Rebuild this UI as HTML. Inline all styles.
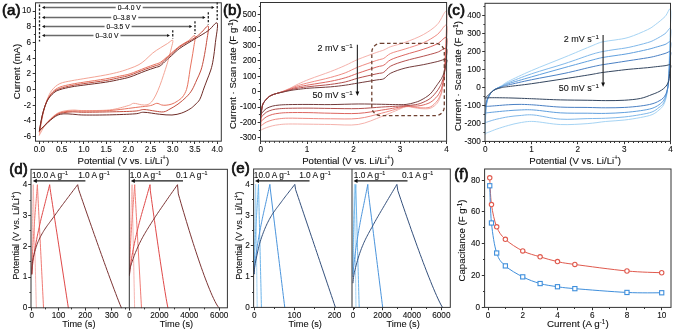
<!DOCTYPE html>
<html><head><meta charset="utf-8"><style>
html,body{margin:0;padding:0;background:#fff;}
svg{display:block;filter:blur(0.3px);font-family:"Liberation Sans", sans-serif;}
</style></head><body>
<svg width="675" height="332" viewBox="0 0 675 332">
<rect width="675" height="332" fill="#fff"/>
<path d="M39.40,135.03 C39.70,133.20 40.51,127.83 41.18,124.04 C41.84,120.25 42.44,116.26 43.40,112.27 C44.36,108.27 45.55,103.76 46.96,100.10 C48.36,96.43 49.70,93.03 51.85,90.28 C53.99,87.54 56.51,85.21 59.85,83.61 C63.18,82.02 67.85,81.53 71.85,80.71 C75.85,79.88 78.22,79.62 83.85,78.67 C89.48,77.71 99.70,76.12 105.63,74.98 C111.56,73.84 115.34,72.94 119.41,71.84 C123.48,70.74 126.82,69.59 130.08,68.38 C133.34,67.18 136.45,66.00 138.97,64.62 C141.49,63.23 142.89,62.00 145.19,60.06 C147.49,58.13 150.23,55.03 152.75,53.00 C155.27,50.97 157.86,49.47 160.30,47.90 C162.75,46.33 165.34,44.85 167.42,43.58 C169.49,42.31 172.08,39.56 172.75,40.28 C173.42,41.00 172.01,45.19 171.42,47.90 C170.82,50.60 169.93,53.78 169.19,56.53 C168.45,59.28 167.93,61.24 166.97,64.38 C166.01,67.52 164.60,71.84 163.42,75.37 C162.23,78.90 161.12,82.30 159.86,85.58 C158.60,88.85 157.27,92.25 155.86,95.00 C154.45,97.74 152.90,100.42 151.41,102.06 C149.93,103.70 148.60,104.35 146.97,104.81 C145.34,105.27 143.86,105.06 141.63,104.81 C139.41,104.56 135.86,103.19 133.63,103.32 C131.41,103.45 132.30,104.49 128.30,105.59 C124.30,106.69 117.04,109.09 109.63,109.91 C102.22,110.73 90.00,110.51 83.85,110.54 C77.70,110.56 76.07,109.98 72.74,110.07 C69.40,110.16 66.44,110.52 63.85,111.09 C61.25,111.65 59.40,112.13 57.18,113.44 C54.96,114.75 52.59,116.91 50.51,118.94 C48.44,120.97 46.59,122.93 44.73,125.61 C42.88,128.29 40.29,133.46 39.40,135.03" fill="none" stroke="#f4a596" stroke-width="1.00" stroke-linejoin="round" stroke-linecap="round" />
<path d="M39.40,131.89 C39.70,130.19 40.51,125.09 41.18,121.69 C41.84,118.28 42.44,114.95 43.40,111.48 C44.36,108.01 45.40,104.15 46.96,100.88 C48.51,97.61 50.59,94.14 52.73,91.86 C54.88,89.57 56.66,88.43 59.85,87.14 C63.03,85.86 67.85,84.99 71.85,84.16 C75.85,83.34 78.22,83.08 83.85,82.20 C89.48,81.32 99.70,79.91 105.63,78.90 C111.56,77.90 115.34,77.01 119.41,76.16 C123.48,75.30 125.78,75.17 130.08,73.80 C134.37,72.43 141.04,69.48 145.19,67.91 C149.34,66.34 152.45,65.30 154.97,64.38 C157.49,63.46 158.45,63.53 160.30,62.42 C162.16,61.31 164.23,59.28 166.08,57.71 C167.93,56.14 169.12,54.96 171.42,53.00 C173.71,51.04 177.05,47.96 179.86,45.93 C182.68,43.90 185.79,42.52 188.31,40.83 C190.83,39.14 194.09,34.63 194.98,35.81 C195.86,36.98 194.16,44.05 193.64,47.90 C193.12,51.74 192.46,55.35 191.86,58.89 C191.27,62.42 190.64,65.62 190.09,69.09 C189.53,72.56 189.12,76.29 188.53,79.69 C187.94,83.09 187.53,86.62 186.53,89.50 C185.53,92.38 184.08,94.99 182.53,96.96 C180.97,98.92 178.97,100.10 177.20,101.28 C175.42,102.45 173.71,103.37 171.86,104.02 C170.01,104.68 167.79,105.04 166.08,105.20 C164.38,105.36 163.19,105.28 161.64,104.96 C160.08,104.65 158.60,103.21 156.75,103.32 C154.90,103.42 153.64,104.95 150.53,105.59 C147.41,106.23 144.89,106.34 138.08,107.16 C131.26,107.99 118.67,109.87 109.63,110.54 C100.59,111.21 90.00,111.09 83.85,111.17 C77.70,111.24 76.07,110.89 72.74,111.01 C69.40,111.13 66.44,111.38 63.85,111.87 C61.25,112.37 59.40,112.75 57.18,113.99 C54.96,115.23 52.59,117.46 50.51,119.33 C48.44,121.20 46.59,123.25 44.73,125.22 C42.88,127.18 40.29,130.12 39.40,131.10" fill="none" stroke="#e8735f" stroke-width="1.00" stroke-linejoin="round" stroke-linecap="round" />
<path d="M39.40,131.10 C39.70,129.40 40.51,124.24 41.18,120.90 C41.84,117.56 42.44,114.42 43.40,111.09 C44.36,107.75 45.40,103.96 46.96,100.88 C48.51,97.81 50.59,94.69 52.73,92.64 C54.88,90.59 56.66,89.74 59.85,88.56 C63.03,87.38 67.85,86.40 71.85,85.58 C75.85,84.75 78.22,84.45 83.85,83.61 C89.48,82.78 99.70,81.53 105.63,80.55 C111.56,79.57 115.34,78.61 119.41,77.72 C123.48,76.84 125.78,76.61 130.08,75.21 C134.37,73.81 141.04,70.87 145.19,69.33 C149.34,67.78 152.45,66.84 154.97,65.95 C157.49,65.06 158.45,65.19 160.30,63.99 C162.16,62.78 164.23,60.36 166.08,58.73 C167.93,57.09 169.12,56.18 171.42,54.18 C173.71,52.17 175.94,49.47 179.86,46.72 C183.79,43.97 191.34,40.11 194.98,37.69 C198.61,35.27 199.42,34.11 201.64,32.20 C203.87,30.28 207.50,24.53 208.31,26.23 C209.12,27.93 207.27,37.09 206.53,42.40 C205.79,47.71 204.78,53.49 203.87,58.10 C202.95,62.71 202.21,66.38 201.02,70.03 C199.83,73.68 198.21,76.68 196.71,80.00 C195.20,83.32 193.70,87.16 192.00,89.97 C190.29,92.78 188.82,94.52 186.49,96.88 C184.15,99.23 180.74,102.09 178.00,104.10 C175.25,106.12 172.39,107.67 169.99,108.97 C167.59,110.26 166.10,111.52 163.59,111.87 C161.09,112.23 158.26,111.48 154.97,111.09 C151.68,110.70 147.19,109.52 143.86,109.52 C140.52,109.52 140.67,110.70 134.97,111.09 C129.26,111.48 118.15,111.68 109.63,111.87 C101.11,112.07 90.00,112.27 83.85,112.27 C77.70,112.27 76.07,111.81 72.74,111.87 C69.40,111.94 66.44,112.20 63.85,112.66 C61.25,113.12 59.40,113.44 57.18,114.62 C54.96,115.80 52.59,117.96 50.51,119.72 C48.44,121.49 46.59,123.39 44.73,125.22 C42.88,127.05 40.29,129.80 39.40,130.71" fill="none" stroke="#c44d3e" stroke-width="1.00" stroke-linejoin="round" stroke-linecap="round" />
<path d="M39.40,130.71 C39.70,129.01 40.51,123.78 41.18,120.51 C41.84,117.24 42.33,114.49 43.40,111.09 C44.47,107.69 45.92,103.11 47.62,100.10 C49.33,97.09 51.59,94.77 53.62,93.03 C55.66,91.29 56.81,90.69 59.85,89.66 C62.88,88.62 67.85,87.59 71.85,86.83 C75.85,86.07 78.22,85.88 83.85,85.10 C89.48,84.33 99.70,83.13 105.63,82.20 C111.56,81.27 115.34,80.41 119.41,79.53 C123.48,78.65 125.78,78.35 130.08,76.94 C134.37,75.53 141.04,72.60 145.19,71.05 C149.34,69.51 152.45,68.55 154.97,67.68 C157.49,66.80 158.45,67.00 160.30,65.79 C162.16,64.59 164.23,62.13 166.08,60.45 C167.93,58.78 169.12,57.77 171.42,55.75 C173.71,53.72 175.94,51.10 179.86,48.29 C183.79,45.47 190.23,41.81 194.98,38.87 C199.72,35.92 204.61,33.25 208.31,30.62 C212.01,28.00 216.01,21.13 217.20,23.09 C218.39,25.05 216.09,36.30 215.42,42.40 C214.76,48.50 213.97,55.06 213.20,59.67 C212.43,64.28 211.83,66.64 210.80,70.03 C209.77,73.42 208.15,77.01 207.02,80.00 C205.89,83.00 205.20,84.79 204.00,88.01 C202.80,91.23 201.32,96.51 199.82,99.31 C198.32,102.11 196.60,103.21 194.98,104.81 C193.35,106.40 192.31,107.52 190.09,108.89 C187.86,110.26 184.66,112.03 181.64,113.05 C178.62,114.07 175.70,114.82 171.99,115.01 C168.29,115.21 164.10,114.69 159.42,114.23 C154.73,113.77 147.93,112.33 143.86,112.27 C139.78,112.20 140.67,113.40 134.97,113.84 C129.26,114.27 118.15,114.66 109.63,114.86 C101.11,115.05 90.00,115.12 83.85,115.01 C77.70,114.91 76.07,114.42 72.74,114.23 C69.40,114.03 66.44,113.64 63.85,113.84 C61.25,114.03 59.40,114.36 57.18,115.41 C54.96,116.45 52.59,118.41 50.51,120.11 C48.44,121.82 46.59,123.84 44.73,125.61 C42.88,127.38 40.29,129.86 39.40,130.71" fill="none" stroke="#6e2b26" stroke-width="1.00" stroke-linejoin="round" stroke-linecap="round" />
<line x1="39.50" y1="4.60" x2="39.50" y2="41.50" stroke="#222" stroke-width="1.30" stroke-dasharray="2.3,1.6"/>
<line x1="217.20" y1="2.20" x2="217.20" y2="21.29" stroke="#222" stroke-width="1.30" stroke-dasharray="2.3,1.6"/>
<line x1="43.60" y1="7.50" x2="212.40" y2="7.50" stroke="#6a6a6a" stroke-width="1.40" />
<path d="M42.00,7.50 l2.8,-1.5 l0,3.0 z" fill="#111"/>
<path d="M214.40,7.50 l-2.8,-1.5 l0,3.0 z" fill="#111"/>
<rect x="115.70" y="3.50" width="27" height="8" fill="#fff"/>
<text x="129.20" y="10.10" font-size="7.30" text-anchor="middle" fill="#111111" stroke="#111111" stroke-width="0.15"  transform="matrix(0.9200 0 0 1 10.336 0)">0–4.0 V</text>
<line x1="208.31" y1="12.20" x2="208.31" y2="24.43" stroke="#222" stroke-width="1.30" stroke-dasharray="2.3,1.6"/>
<line x1="43.60" y1="17.50" x2="203.51" y2="17.50" stroke="#6a6a6a" stroke-width="1.40" />
<path d="M42.00,17.50 l2.8,-1.5 l0,3.0 z" fill="#111"/>
<path d="M205.51,17.50 l-2.8,-1.5 l0,3.0 z" fill="#111"/>
<rect x="111.25" y="13.50" width="27" height="8" fill="#fff"/>
<text x="124.75" y="20.10" font-size="7.30" text-anchor="middle" fill="#111111" stroke="#111111" stroke-width="0.15"  transform="matrix(0.9200 0 0 1 9.980 0)">0–3.8 V</text>
<line x1="194.98" y1="21.20" x2="194.98" y2="34.01" stroke="#222" stroke-width="1.30" stroke-dasharray="2.3,1.6"/>
<line x1="43.60" y1="26.50" x2="190.18" y2="26.50" stroke="#6a6a6a" stroke-width="1.40" />
<path d="M42.00,26.50 l2.8,-1.5 l0,3.0 z" fill="#111"/>
<path d="M192.18,26.50 l-2.8,-1.5 l0,3.0 z" fill="#111"/>
<rect x="104.59" y="22.50" width="27" height="8" fill="#fff"/>
<text x="118.09" y="29.10" font-size="7.30" text-anchor="middle" fill="#111111" stroke="#111111" stroke-width="0.15"  transform="matrix(0.9200 0 0 1 9.447 0)">0–3.5 V</text>
<line x1="172.75" y1="30.20" x2="172.75" y2="38.48" stroke="#222" stroke-width="1.30" stroke-dasharray="2.3,1.6"/>
<line x1="43.60" y1="35.50" x2="167.95" y2="35.50" stroke="#6a6a6a" stroke-width="1.40" />
<path d="M42.00,35.50 l2.8,-1.5 l0,3.0 z" fill="#111"/>
<path d="M169.95,35.50 l-2.8,-1.5 l0,3.0 z" fill="#111"/>
<rect x="93.48" y="31.50" width="27" height="8" fill="#fff"/>
<text x="106.98" y="38.10" font-size="7.30" text-anchor="middle" fill="#111111" stroke="#111111" stroke-width="0.15"  transform="matrix(0.9200 0 0 1 8.558 0)">0–3.0 V</text>
<rect x="35.50" y="2.80" width="185.80" height="138.40" fill="none" stroke="#333333" stroke-width="1.00"/>
<line x1="39.50" y1="141.20" x2="39.50" y2="144.00" stroke="#333333" stroke-width="1.00" />
<line x1="61.50" y1="141.20" x2="61.50" y2="144.00" stroke="#333333" stroke-width="1.00" />
<line x1="83.50" y1="141.20" x2="83.50" y2="144.00" stroke="#333333" stroke-width="1.00" />
<line x1="106.50" y1="141.20" x2="106.50" y2="144.00" stroke="#333333" stroke-width="1.00" />
<line x1="128.50" y1="141.20" x2="128.50" y2="144.00" stroke="#333333" stroke-width="1.00" />
<line x1="150.50" y1="141.20" x2="150.50" y2="144.00" stroke="#333333" stroke-width="1.00" />
<line x1="172.50" y1="141.20" x2="172.50" y2="144.00" stroke="#333333" stroke-width="1.00" />
<line x1="194.50" y1="141.20" x2="194.50" y2="144.00" stroke="#333333" stroke-width="1.00" />
<line x1="217.50" y1="141.20" x2="217.50" y2="144.00" stroke="#333333" stroke-width="1.00" />
<line x1="43.50" y1="141.20" x2="43.50" y2="142.80" stroke="#333333" stroke-width="1.00" />
<line x1="48.50" y1="141.20" x2="48.50" y2="142.80" stroke="#333333" stroke-width="1.00" />
<line x1="52.50" y1="141.20" x2="52.50" y2="142.80" stroke="#333333" stroke-width="1.00" />
<line x1="57.50" y1="141.20" x2="57.50" y2="142.80" stroke="#333333" stroke-width="1.00" />
<line x1="66.50" y1="141.20" x2="66.50" y2="142.80" stroke="#333333" stroke-width="1.00" />
<line x1="70.50" y1="141.20" x2="70.50" y2="142.80" stroke="#333333" stroke-width="1.00" />
<line x1="74.50" y1="141.20" x2="74.50" y2="142.80" stroke="#333333" stroke-width="1.00" />
<line x1="79.50" y1="141.20" x2="79.50" y2="142.80" stroke="#333333" stroke-width="1.00" />
<line x1="88.50" y1="141.20" x2="88.50" y2="142.80" stroke="#333333" stroke-width="1.00" />
<line x1="92.50" y1="141.20" x2="92.50" y2="142.80" stroke="#333333" stroke-width="1.00" />
<line x1="97.50" y1="141.20" x2="97.50" y2="142.80" stroke="#333333" stroke-width="1.00" />
<line x1="101.50" y1="141.20" x2="101.50" y2="142.80" stroke="#333333" stroke-width="1.00" />
<line x1="110.50" y1="141.20" x2="110.50" y2="142.80" stroke="#333333" stroke-width="1.00" />
<line x1="114.50" y1="141.20" x2="114.50" y2="142.80" stroke="#333333" stroke-width="1.00" />
<line x1="119.50" y1="141.20" x2="119.50" y2="142.80" stroke="#333333" stroke-width="1.00" />
<line x1="123.50" y1="141.20" x2="123.50" y2="142.80" stroke="#333333" stroke-width="1.00" />
<line x1="132.50" y1="141.20" x2="132.50" y2="142.80" stroke="#333333" stroke-width="1.00" />
<line x1="137.50" y1="141.20" x2="137.50" y2="142.80" stroke="#333333" stroke-width="1.00" />
<line x1="141.50" y1="141.20" x2="141.50" y2="142.80" stroke="#333333" stroke-width="1.00" />
<line x1="146.50" y1="141.20" x2="146.50" y2="142.80" stroke="#333333" stroke-width="1.00" />
<line x1="154.50" y1="141.20" x2="154.50" y2="142.80" stroke="#333333" stroke-width="1.00" />
<line x1="159.50" y1="141.20" x2="159.50" y2="142.80" stroke="#333333" stroke-width="1.00" />
<line x1="163.50" y1="141.20" x2="163.50" y2="142.80" stroke="#333333" stroke-width="1.00" />
<line x1="168.50" y1="141.20" x2="168.50" y2="142.80" stroke="#333333" stroke-width="1.00" />
<line x1="177.50" y1="141.20" x2="177.50" y2="142.80" stroke="#333333" stroke-width="1.00" />
<line x1="181.50" y1="141.20" x2="181.50" y2="142.80" stroke="#333333" stroke-width="1.00" />
<line x1="186.50" y1="141.20" x2="186.50" y2="142.80" stroke="#333333" stroke-width="1.00" />
<line x1="190.50" y1="141.20" x2="190.50" y2="142.80" stroke="#333333" stroke-width="1.00" />
<line x1="199.50" y1="141.20" x2="199.50" y2="142.80" stroke="#333333" stroke-width="1.00" />
<line x1="203.50" y1="141.20" x2="203.50" y2="142.80" stroke="#333333" stroke-width="1.00" />
<line x1="208.50" y1="141.20" x2="208.50" y2="142.80" stroke="#333333" stroke-width="1.00" />
<line x1="212.50" y1="141.20" x2="212.50" y2="142.80" stroke="#333333" stroke-width="1.00" />
<text x="39.40" y="152.00" font-size="8.20" text-anchor="middle" fill="#111111" stroke="#111111" stroke-width="0.10" >0.0</text>
<text x="61.62" y="152.00" font-size="8.20" text-anchor="middle" fill="#111111" stroke="#111111" stroke-width="0.10" >0.5</text>
<text x="83.85" y="152.00" font-size="8.20" text-anchor="middle" fill="#111111" stroke="#111111" stroke-width="0.10" >1.0</text>
<text x="106.08" y="152.00" font-size="8.20" text-anchor="middle" fill="#111111" stroke="#111111" stroke-width="0.10" >1.5</text>
<text x="128.30" y="152.00" font-size="8.20" text-anchor="middle" fill="#111111" stroke="#111111" stroke-width="0.10" >2.0</text>
<text x="150.53" y="152.00" font-size="8.20" text-anchor="middle" fill="#111111" stroke="#111111" stroke-width="0.10" >2.5</text>
<text x="172.75" y="152.00" font-size="8.20" text-anchor="middle" fill="#111111" stroke="#111111" stroke-width="0.10" >3.0</text>
<text x="194.98" y="152.00" font-size="8.20" text-anchor="middle" fill="#111111" stroke="#111111" stroke-width="0.10" >3.5</text>
<text x="217.20" y="152.00" font-size="8.20" text-anchor="middle" fill="#111111" stroke="#111111" stroke-width="0.10" >4.0</text>
<line x1="35.50" y1="136.50" x2="32.70" y2="136.50" stroke="#333333" stroke-width="1.00" />
<line x1="35.50" y1="120.50" x2="32.70" y2="120.50" stroke="#333333" stroke-width="1.00" />
<line x1="35.50" y1="105.50" x2="32.70" y2="105.50" stroke="#333333" stroke-width="1.00" />
<line x1="35.50" y1="89.50" x2="32.70" y2="89.50" stroke="#333333" stroke-width="1.00" />
<line x1="35.50" y1="73.50" x2="32.70" y2="73.50" stroke="#333333" stroke-width="1.00" />
<line x1="35.50" y1="58.50" x2="32.70" y2="58.50" stroke="#333333" stroke-width="1.00" />
<line x1="35.50" y1="42.50" x2="32.70" y2="42.50" stroke="#333333" stroke-width="1.00" />
<line x1="35.50" y1="26.50" x2="32.70" y2="26.50" stroke="#333333" stroke-width="1.00" />
<line x1="35.50" y1="11.50" x2="32.70" y2="11.50" stroke="#333333" stroke-width="1.00" />
<line x1="35.50" y1="128.50" x2="33.90" y2="128.50" stroke="#333333" stroke-width="1.00" />
<line x1="35.50" y1="113.50" x2="33.90" y2="113.50" stroke="#333333" stroke-width="1.00" />
<line x1="35.50" y1="97.50" x2="33.90" y2="97.50" stroke="#333333" stroke-width="1.00" />
<line x1="35.50" y1="81.50" x2="33.90" y2="81.50" stroke="#333333" stroke-width="1.00" />
<line x1="35.50" y1="65.50" x2="33.90" y2="65.50" stroke="#333333" stroke-width="1.00" />
<line x1="35.50" y1="50.50" x2="33.90" y2="50.50" stroke="#333333" stroke-width="1.00" />
<line x1="35.50" y1="34.50" x2="33.90" y2="34.50" stroke="#333333" stroke-width="1.00" />
<line x1="35.50" y1="18.50" x2="33.90" y2="18.50" stroke="#333333" stroke-width="1.00" />
<text x="31.00" y="139.00" font-size="8.20" text-anchor="end" fill="#111111" stroke="#111111" stroke-width="0.10" >-6</text>
<text x="31.00" y="123.30" font-size="8.20" text-anchor="end" fill="#111111" stroke="#111111" stroke-width="0.10" >-4</text>
<text x="31.00" y="107.60" font-size="8.20" text-anchor="end" fill="#111111" stroke="#111111" stroke-width="0.10" >-2</text>
<text x="31.00" y="91.90" font-size="8.20" text-anchor="end" fill="#111111" stroke="#111111" stroke-width="0.10" >0</text>
<text x="31.00" y="76.20" font-size="8.20" text-anchor="end" fill="#111111" stroke="#111111" stroke-width="0.10" >2</text>
<text x="31.00" y="60.50" font-size="8.20" text-anchor="end" fill="#111111" stroke="#111111" stroke-width="0.10" >4</text>
<text x="31.00" y="44.80" font-size="8.20" text-anchor="end" fill="#111111" stroke="#111111" stroke-width="0.10" >6</text>
<text x="31.00" y="29.10" font-size="8.20" text-anchor="end" fill="#111111" stroke="#111111" stroke-width="0.10" >8</text>
<text x="31.00" y="13.40" font-size="8.20" text-anchor="end" fill="#111111" stroke="#111111" stroke-width="0.10" >10</text>
<text x="123.40" y="163.70" font-size="9.60" text-anchor="middle" fill="#111111" stroke="#111111" stroke-width="0.10" >Potential (V vs. Li/Li<tspan dy="-3.3" font-size="6.3">+</tspan><tspan dy="3.3">)</tspan></text>
<text x="20.00" y="71.50" font-size="9.60" text-anchor="middle" fill="#111111" stroke="#111111" stroke-width="0.10"  transform="rotate(-90 20.00 71.50)">Current (mA)</text>
<text x="2.00" y="15.00" font-size="15.20" text-anchor="start" fill="#111111" stroke="#111111" stroke-width="0.70" >(a)</text>
<path d="M260.70,130.18 C260.79,127.35 260.95,117.41 261.26,113.22 C261.57,109.04 261.88,107.19 262.56,105.06 C263.24,102.92 264.11,101.95 265.34,100.43 C266.58,98.92 268.13,97.12 269.99,95.96 C271.85,94.81 274.48,94.22 276.49,93.50 C278.51,92.78 279.82,92.52 282.07,91.65 C284.31,90.78 287.25,89.54 289.96,88.26 C292.67,86.98 295.00,85.49 298.32,83.95 C301.65,82.40 304.60,81.07 309.94,79.01 C315.28,76.96 324.49,73.88 330.38,71.62 C336.26,69.36 340.59,67.51 345.24,65.45 C349.88,63.40 352.98,61.47 358.25,59.29 C363.51,57.11 372.57,53.90 376.82,52.35 C381.08,50.81 381.47,50.99 383.79,50.04 C386.12,49.09 387.20,47.94 390.76,46.65 C394.32,45.37 399.74,44.34 405.16,42.34 C410.58,40.33 417.93,37.59 423.27,34.63 C428.62,31.68 433.34,28.47 437.21,24.62 C441.08,20.76 445.07,9.08 446.50,11.52 C447.93,13.96 446.19,28.98 445.80,39.26 C445.42,49.53 444.84,64.43 444.18,73.16 C443.52,81.89 442.47,87.77 441.86,91.65 C441.24,95.53 441.24,94.50 440.46,96.43 C439.69,98.35 438.91,101.23 437.21,103.21 C435.51,105.19 432.95,107.39 430.24,108.29 C427.53,109.19 423.66,108.70 420.95,108.60 C418.24,108.50 416.46,107.98 413.99,107.68 C411.51,107.37 409.19,106.21 406.09,106.75 C402.99,107.29 399.51,109.27 395.40,110.91 C391.30,112.56 387.66,114.35 381.47,116.61 C375.28,118.87 366.76,123.16 358.25,124.47 C349.73,125.78 338.74,124.52 330.38,124.47 C322.01,124.42 315.05,124.24 308.08,124.17 C301.11,124.09 293.37,123.93 288.57,124.01 C283.77,124.09 281.99,124.32 279.28,124.63 C276.57,124.94 274.48,125.35 272.31,125.86 C270.14,126.37 267.90,127.14 266.27,127.71 C264.65,128.27 263.49,128.84 262.56,129.25 C261.63,129.66 261.01,130.02 260.70,130.18" fill="none" stroke="#f5b2ac" stroke-width="1.00" stroke-linejoin="round" stroke-linecap="round" />
<path d="M260.70,125.86 C260.79,123.75 260.95,116.69 261.26,113.22 C261.57,109.76 261.88,107.19 262.56,105.06 C263.24,102.92 264.11,101.95 265.34,100.43 C266.58,98.92 268.13,97.12 269.99,95.96 C271.85,94.81 274.48,94.19 276.49,93.50 C278.51,92.81 279.82,92.60 282.07,91.80 C284.31,91.01 287.25,89.78 289.96,88.72 C292.67,87.67 295.00,86.54 298.32,85.49 C301.65,84.43 304.60,83.74 309.94,82.40 C315.28,81.07 324.49,79.07 330.38,77.47 C336.26,75.88 340.59,74.60 345.24,72.85 C349.88,71.10 352.98,69.07 358.25,66.99 C363.51,64.91 372.57,61.81 376.82,60.37 C381.08,58.93 381.47,59.52 383.79,58.36 C386.12,57.21 387.20,55.00 390.76,53.43 C394.32,51.87 399.74,50.74 405.16,48.96 C410.58,47.19 417.93,45.19 423.27,42.80 C428.62,40.41 433.34,37.54 437.21,34.63 C441.08,31.73 445.07,23.33 446.50,25.39 C447.93,27.44 446.19,38.49 445.80,46.96 C445.42,55.44 444.84,69.05 444.18,76.24 C443.52,83.43 442.47,87.03 441.86,90.11 C441.24,93.19 441.24,92.93 440.46,94.73 C439.69,96.53 438.91,98.84 437.21,100.90 C435.51,102.95 432.95,105.90 430.24,107.06 C427.53,108.22 423.66,107.83 420.95,107.83 C418.24,107.83 416.46,107.29 413.99,107.06 C411.51,106.83 409.19,106.06 406.09,106.44 C402.99,106.83 399.51,108.24 395.40,109.37 C391.30,110.50 387.66,111.71 381.47,113.22 C375.28,114.74 366.76,117.54 358.25,118.46 C349.73,119.39 338.74,118.77 330.38,118.77 C322.01,118.77 315.05,118.57 308.08,118.46 C301.11,118.36 293.37,118.10 288.57,118.16 C283.77,118.21 281.99,118.46 279.28,118.77 C276.57,119.08 274.48,119.44 272.31,120.00 C270.14,120.57 267.90,121.39 266.27,122.16 C264.65,122.93 263.49,124.01 262.56,124.63 C261.63,125.24 261.01,125.65 260.70,125.86" fill="none" stroke="#ef8c84" stroke-width="1.00" stroke-linejoin="round" stroke-linecap="round" />
<path d="M260.70,121.70 C260.79,120.29 260.95,116.00 261.26,113.22 C261.57,110.45 261.88,107.19 262.56,105.06 C263.24,102.92 264.11,101.95 265.34,100.43 C266.58,98.92 268.13,97.12 269.99,95.96 C271.85,94.81 274.48,94.17 276.49,93.50 C278.51,92.83 279.82,92.65 282.07,91.96 C284.31,91.26 287.25,90.19 289.96,89.34 C292.67,88.49 295.00,87.64 298.32,86.87 C301.65,86.10 304.60,85.64 309.94,84.72 C315.28,83.79 324.49,82.48 330.38,81.33 C336.26,80.17 340.59,79.14 345.24,77.78 C349.88,76.42 352.98,74.96 358.25,73.16 C363.51,71.36 372.57,68.33 376.82,66.99 C381.08,65.66 381.47,66.35 383.79,65.14 C386.12,63.94 387.20,61.50 390.76,59.75 C394.32,58.00 399.74,56.41 405.16,54.67 C410.58,52.92 417.93,51.07 423.27,49.27 C428.62,47.47 433.34,45.81 437.21,43.88 C441.08,41.95 445.07,35.92 446.50,37.72 C447.93,39.51 446.19,48.25 445.80,54.67 C445.42,61.09 444.84,70.85 444.18,76.24 C443.52,81.63 442.47,84.59 441.86,87.03 C441.24,89.47 441.24,89.34 440.46,90.88 C439.69,92.42 438.91,94.35 437.21,96.27 C435.51,98.20 432.95,100.90 430.24,102.44 C427.53,103.98 423.66,104.90 420.95,105.52 C418.24,106.14 416.46,106.03 413.99,106.14 C411.51,106.24 409.19,105.85 406.09,106.14 C402.99,106.42 399.51,107.16 395.40,107.83 C391.30,108.50 387.66,109.22 381.47,110.14 C375.28,111.07 366.76,112.86 358.25,113.38 C349.73,113.89 338.74,113.35 330.38,113.22 C322.01,113.10 315.05,112.71 308.08,112.61 C301.11,112.50 293.37,112.50 288.57,112.61 C283.77,112.71 281.99,112.92 279.28,113.22 C276.57,113.53 274.48,113.84 272.31,114.46 C270.14,115.07 267.90,116.00 266.27,116.92 C264.65,117.85 263.49,119.21 262.56,120.00 C261.63,120.80 261.01,121.42 260.70,121.70" fill="none" stroke="#dc6660" stroke-width="1.00" stroke-linejoin="round" stroke-linecap="round" />
<path d="M260.70,117.85 C260.79,117.08 260.95,115.36 261.26,113.22 C261.57,111.09 261.88,107.19 262.56,105.06 C263.24,102.92 264.11,101.95 265.34,100.43 C266.58,98.92 268.13,97.12 269.99,95.96 C271.85,94.81 274.48,94.14 276.49,93.50 C278.51,92.86 279.82,92.70 282.07,92.11 C284.31,91.52 287.25,90.62 289.96,89.95 C292.67,89.29 295.00,88.67 298.32,88.11 C301.65,87.54 304.60,87.18 309.94,86.56 C315.28,85.95 324.49,85.18 330.38,84.41 C336.26,83.64 340.59,82.99 345.24,81.94 C349.88,80.89 352.98,79.45 358.25,78.09 C363.51,76.73 372.57,74.75 376.82,73.77 C381.08,72.80 381.47,73.52 383.79,72.23 C386.12,70.95 387.20,67.97 390.76,66.07 C394.32,64.17 399.74,62.47 405.16,60.83 C410.58,59.19 417.93,57.62 423.27,56.21 C428.62,54.79 433.34,53.64 437.21,52.35 C441.08,51.07 445.07,47.09 446.50,48.50 C447.93,49.91 446.19,56.46 445.80,60.83 C445.42,65.20 444.84,71.10 444.18,74.70 C443.52,78.29 442.47,80.61 441.86,82.40 C441.24,84.20 441.24,84.07 440.46,85.49 C439.69,86.90 438.91,88.72 437.21,90.88 C435.51,93.04 432.95,96.38 430.24,98.43 C427.53,100.49 423.66,102.13 420.95,103.21 C418.24,104.29 416.46,104.49 413.99,104.90 C411.51,105.31 409.19,105.44 406.09,105.67 C402.99,105.90 399.51,106.06 395.40,106.29 C391.30,106.52 387.66,106.67 381.47,107.06 C375.28,107.45 366.76,108.37 358.25,108.60 C349.73,108.83 338.74,108.52 330.38,108.45 C322.01,108.37 315.05,108.16 308.08,108.14 C301.11,108.11 293.37,108.19 288.57,108.29 C283.77,108.40 281.99,108.50 279.28,108.76 C276.57,109.01 274.48,109.24 272.31,109.83 C270.14,110.42 267.90,111.32 266.27,112.30 C264.65,113.28 263.49,114.77 262.56,115.69 C261.63,116.61 261.01,117.49 260.70,117.85" fill="none" stroke="#b4504e" stroke-width="1.00" stroke-linejoin="round" stroke-linecap="round" />
<path d="M260.70,114.77 C260.79,114.38 260.95,114.07 261.26,112.45 C261.57,110.84 261.88,107.06 262.56,105.06 C263.24,103.05 264.11,101.95 265.34,100.43 C266.58,98.92 268.13,97.12 269.99,95.96 C271.85,94.81 274.48,94.12 276.49,93.50 C278.51,92.88 279.82,92.75 282.07,92.27 C284.31,91.78 287.25,91.06 289.96,90.57 C292.67,90.08 295.00,89.75 298.32,89.34 C301.65,88.93 304.60,88.52 309.94,88.11 C315.28,87.69 324.49,87.36 330.38,86.87 C336.26,86.38 340.59,85.82 345.24,85.18 C349.88,84.54 352.98,83.89 358.25,83.02 C363.51,82.15 372.57,80.66 376.82,79.94 C381.08,79.22 381.47,79.84 383.79,78.71 C386.12,77.58 387.20,74.93 390.76,73.16 C394.32,71.39 399.74,69.49 405.16,68.07 C410.58,66.66 417.93,65.76 423.27,64.68 C428.62,63.60 433.34,62.50 437.21,61.60 C441.08,60.70 445.07,58.65 446.50,59.29 C447.93,59.93 446.19,63.27 445.80,65.45 C445.42,67.64 444.84,70.33 444.18,72.39 C443.52,74.44 442.47,76.50 441.86,77.78 C441.24,79.07 441.24,78.94 440.46,80.09 C439.69,81.25 438.91,82.40 437.21,84.72 C435.51,87.03 432.95,91.39 430.24,93.96 C427.53,96.53 423.66,98.66 420.95,100.13 C418.24,101.59 416.46,102.03 413.99,102.75 C411.51,103.46 409.19,104.13 406.09,104.44 C402.99,104.75 399.51,104.62 395.40,104.59 C391.30,104.57 387.66,104.39 381.47,104.29 C375.28,104.18 366.76,103.93 358.25,103.98 C349.73,104.03 338.74,104.52 330.38,104.59 C322.01,104.67 315.05,104.44 308.08,104.44 C301.11,104.44 293.37,104.49 288.57,104.59 C283.77,104.70 281.99,104.80 279.28,105.06 C276.57,105.31 274.48,105.54 272.31,106.14 C270.14,106.73 267.90,107.57 266.27,108.60 C264.65,109.63 263.49,111.27 262.56,112.30 C261.63,113.33 261.01,114.35 260.70,114.77" fill="none" stroke="#743c3c" stroke-width="1.00" stroke-linejoin="round" stroke-linecap="round" />
<rect x="371.8" y="43.3" width="72.5" height="72.4" rx="9" ry="9" fill="none" stroke="#6e4030" stroke-width="1.3" stroke-dasharray="3.6,2.6"/>
<line x1="357.40" y1="44.80" x2="357.40" y2="92.00" stroke="#333" stroke-width="1.20" />
<path d="M357.4,96 l-1.9,-4.6 l3.8,0 z" fill="#111"/>
<text x="352.70" y="51.10" font-size="9.00" text-anchor="end" fill="#111111" stroke="#111111" stroke-width="0.10" >2 mV s<tspan dy="-3.2" font-size="6.2">−1</tspan><tspan dy="3.2"></tspan></text>
<text x="352.70" y="98.30" font-size="9.00" text-anchor="end" fill="#111111" stroke="#111111" stroke-width="0.10" >50 mV s<tspan dy="-3.2" font-size="6.2">−1</tspan><tspan dy="3.2"></tspan></text>
<rect x="260.50" y="2.50" width="186.10" height="138.70" fill="none" stroke="#333333" stroke-width="1.00"/>
<line x1="260.50" y1="141.20" x2="260.50" y2="144.00" stroke="#333333" stroke-width="1.00" />
<line x1="307.50" y1="141.20" x2="307.50" y2="144.00" stroke="#333333" stroke-width="1.00" />
<line x1="353.50" y1="141.20" x2="353.50" y2="144.00" stroke="#333333" stroke-width="1.00" />
<line x1="400.50" y1="141.20" x2="400.50" y2="144.00" stroke="#333333" stroke-width="1.00" />
<line x1="446.50" y1="141.20" x2="446.50" y2="144.00" stroke="#333333" stroke-width="1.00" />
<line x1="265.50" y1="141.20" x2="265.50" y2="142.80" stroke="#333333" stroke-width="1.00" />
<line x1="269.50" y1="141.20" x2="269.50" y2="142.80" stroke="#333333" stroke-width="1.00" />
<line x1="274.50" y1="141.20" x2="274.50" y2="142.80" stroke="#333333" stroke-width="1.00" />
<line x1="279.50" y1="141.20" x2="279.50" y2="142.80" stroke="#333333" stroke-width="1.00" />
<line x1="283.50" y1="141.20" x2="283.50" y2="142.80" stroke="#333333" stroke-width="1.00" />
<line x1="288.50" y1="141.20" x2="288.50" y2="142.80" stroke="#333333" stroke-width="1.00" />
<line x1="293.50" y1="141.20" x2="293.50" y2="142.80" stroke="#333333" stroke-width="1.00" />
<line x1="297.50" y1="141.20" x2="297.50" y2="142.80" stroke="#333333" stroke-width="1.00" />
<line x1="302.50" y1="141.20" x2="302.50" y2="142.80" stroke="#333333" stroke-width="1.00" />
<line x1="311.50" y1="141.20" x2="311.50" y2="142.80" stroke="#333333" stroke-width="1.00" />
<line x1="316.50" y1="141.20" x2="316.50" y2="142.80" stroke="#333333" stroke-width="1.00" />
<line x1="321.50" y1="141.20" x2="321.50" y2="142.80" stroke="#333333" stroke-width="1.00" />
<line x1="325.50" y1="141.20" x2="325.50" y2="142.80" stroke="#333333" stroke-width="1.00" />
<line x1="330.50" y1="141.20" x2="330.50" y2="142.80" stroke="#333333" stroke-width="1.00" />
<line x1="335.50" y1="141.20" x2="335.50" y2="142.80" stroke="#333333" stroke-width="1.00" />
<line x1="339.50" y1="141.20" x2="339.50" y2="142.80" stroke="#333333" stroke-width="1.00" />
<line x1="344.50" y1="141.20" x2="344.50" y2="142.80" stroke="#333333" stroke-width="1.00" />
<line x1="348.50" y1="141.20" x2="348.50" y2="142.80" stroke="#333333" stroke-width="1.00" />
<line x1="358.50" y1="141.20" x2="358.50" y2="142.80" stroke="#333333" stroke-width="1.00" />
<line x1="362.50" y1="141.20" x2="362.50" y2="142.80" stroke="#333333" stroke-width="1.00" />
<line x1="367.50" y1="141.20" x2="367.50" y2="142.80" stroke="#333333" stroke-width="1.00" />
<line x1="372.50" y1="141.20" x2="372.50" y2="142.80" stroke="#333333" stroke-width="1.00" />
<line x1="376.50" y1="141.20" x2="376.50" y2="142.80" stroke="#333333" stroke-width="1.00" />
<line x1="381.50" y1="141.20" x2="381.50" y2="142.80" stroke="#333333" stroke-width="1.00" />
<line x1="386.50" y1="141.20" x2="386.50" y2="142.80" stroke="#333333" stroke-width="1.00" />
<line x1="390.50" y1="141.20" x2="390.50" y2="142.80" stroke="#333333" stroke-width="1.00" />
<line x1="395.50" y1="141.20" x2="395.50" y2="142.80" stroke="#333333" stroke-width="1.00" />
<line x1="404.50" y1="141.20" x2="404.50" y2="142.80" stroke="#333333" stroke-width="1.00" />
<line x1="409.50" y1="141.20" x2="409.50" y2="142.80" stroke="#333333" stroke-width="1.00" />
<line x1="413.50" y1="141.20" x2="413.50" y2="142.80" stroke="#333333" stroke-width="1.00" />
<line x1="418.50" y1="141.20" x2="418.50" y2="142.80" stroke="#333333" stroke-width="1.00" />
<line x1="423.50" y1="141.20" x2="423.50" y2="142.80" stroke="#333333" stroke-width="1.00" />
<line x1="427.50" y1="141.20" x2="427.50" y2="142.80" stroke="#333333" stroke-width="1.00" />
<line x1="432.50" y1="141.20" x2="432.50" y2="142.80" stroke="#333333" stroke-width="1.00" />
<line x1="437.50" y1="141.20" x2="437.50" y2="142.80" stroke="#333333" stroke-width="1.00" />
<line x1="441.50" y1="141.20" x2="441.50" y2="142.80" stroke="#333333" stroke-width="1.00" />
<text x="260.70" y="152.00" font-size="8.20" text-anchor="middle" fill="#111111" stroke="#111111" stroke-width="0.10" >0</text>
<text x="307.15" y="152.00" font-size="8.20" text-anchor="middle" fill="#111111" stroke="#111111" stroke-width="0.10" >1</text>
<text x="353.60" y="152.00" font-size="8.20" text-anchor="middle" fill="#111111" stroke="#111111" stroke-width="0.10" >2</text>
<text x="400.05" y="152.00" font-size="8.20" text-anchor="middle" fill="#111111" stroke="#111111" stroke-width="0.10" >3</text>
<text x="446.50" y="152.00" font-size="8.20" text-anchor="middle" fill="#111111" stroke="#111111" stroke-width="0.10" >4</text>
<line x1="260.50" y1="137.50" x2="257.70" y2="137.50" stroke="#333333" stroke-width="1.00" />
<line x1="260.50" y1="122.50" x2="257.70" y2="122.50" stroke="#333333" stroke-width="1.00" />
<line x1="260.50" y1="107.50" x2="257.70" y2="107.50" stroke="#333333" stroke-width="1.00" />
<line x1="260.50" y1="91.50" x2="257.70" y2="91.50" stroke="#333333" stroke-width="1.00" />
<line x1="260.50" y1="76.50" x2="257.70" y2="76.50" stroke="#333333" stroke-width="1.00" />
<line x1="260.50" y1="60.50" x2="257.70" y2="60.50" stroke="#333333" stroke-width="1.00" />
<line x1="260.50" y1="45.50" x2="257.70" y2="45.50" stroke="#333333" stroke-width="1.00" />
<line x1="260.50" y1="30.50" x2="257.70" y2="30.50" stroke="#333333" stroke-width="1.00" />
<line x1="260.50" y1="14.50" x2="257.70" y2="14.50" stroke="#333333" stroke-width="1.00" />
<line x1="260.50" y1="130.50" x2="258.90" y2="130.50" stroke="#333333" stroke-width="1.00" />
<line x1="260.50" y1="114.50" x2="258.90" y2="114.50" stroke="#333333" stroke-width="1.00" />
<line x1="260.50" y1="99.50" x2="258.90" y2="99.50" stroke="#333333" stroke-width="1.00" />
<line x1="260.50" y1="83.50" x2="258.90" y2="83.50" stroke="#333333" stroke-width="1.00" />
<line x1="260.50" y1="68.50" x2="258.90" y2="68.50" stroke="#333333" stroke-width="1.00" />
<line x1="260.50" y1="53.50" x2="258.90" y2="53.50" stroke="#333333" stroke-width="1.00" />
<line x1="260.50" y1="37.50" x2="258.90" y2="37.50" stroke="#333333" stroke-width="1.00" />
<line x1="260.50" y1="22.50" x2="258.90" y2="22.50" stroke="#333333" stroke-width="1.00" />
<line x1="260.50" y1="6.50" x2="258.90" y2="6.50" stroke="#333333" stroke-width="1.00" />
<text x="256.40" y="140.28" font-size="8.20" text-anchor="end" fill="#111111" stroke="#111111" stroke-width="0.10" >-300</text>
<text x="256.40" y="124.87" font-size="8.20" text-anchor="end" fill="#111111" stroke="#111111" stroke-width="0.10" >-200</text>
<text x="256.40" y="109.46" font-size="8.20" text-anchor="end" fill="#111111" stroke="#111111" stroke-width="0.10" >-100</text>
<text x="256.40" y="94.05" font-size="8.20" text-anchor="end" fill="#111111" stroke="#111111" stroke-width="0.10" >0</text>
<text x="256.40" y="78.64" font-size="8.20" text-anchor="end" fill="#111111" stroke="#111111" stroke-width="0.10" >100</text>
<text x="256.40" y="63.23" font-size="8.20" text-anchor="end" fill="#111111" stroke="#111111" stroke-width="0.10" >200</text>
<text x="256.40" y="47.82" font-size="8.20" text-anchor="end" fill="#111111" stroke="#111111" stroke-width="0.10" >300</text>
<text x="256.40" y="32.41" font-size="8.20" text-anchor="end" fill="#111111" stroke="#111111" stroke-width="0.10" >400</text>
<text x="256.40" y="17.00" font-size="8.20" text-anchor="end" fill="#111111" stroke="#111111" stroke-width="0.10" >500</text>
<text x="348.00" y="163.70" font-size="9.60" text-anchor="middle" fill="#111111" stroke="#111111" stroke-width="0.10" >Potential (V vs. Li/Li<tspan dy="-3.3" font-size="6.3">+</tspan><tspan dy="3.3">)</tspan></text>
<text x="236.20" y="74.00" font-size="9.60" text-anchor="middle" fill="#111111" stroke="#111111" stroke-width="0.10"  transform="rotate(-90 236.20 74.00)">Current · Scan rate (F g<tspan dy="-3.3" font-size="6.3">-1</tspan><tspan dy="3.3">)</tspan></text>
<text x="223.00" y="15.00" font-size="15.20" text-anchor="start" fill="#111111" stroke="#111111" stroke-width="0.70" >(b)</text>
<path d="M485.20,134.07 C485.29,130.84 485.45,119.98 485.76,114.64 C486.07,109.31 486.37,105.41 487.05,102.05 C487.73,98.69 488.99,96.24 489.83,94.50 C490.68,92.76 491.23,92.52 492.15,91.62 C493.08,90.72 493.85,90.06 495.40,89.10 C496.94,88.14 499.26,87.15 501.42,85.86 C503.59,84.57 503.35,83.91 508.38,81.36 C513.40,78.81 522.13,74.62 531.55,70.57 C540.97,66.52 555.19,61.06 564.92,57.08 C574.66,53.09 583.77,49.16 589.95,46.64 C596.13,44.12 597.83,43.07 602.00,41.97 C606.17,40.86 610.50,40.77 614.98,39.99 C619.46,39.21 623.48,39.00 628.88,37.29 C634.29,35.58 643.02,31.83 647.42,29.73 C651.83,27.63 652.37,26.88 655.30,24.69 C658.24,22.51 662.49,19.12 665.04,16.60 C667.59,14.08 669.79,6.14 670.60,9.58 C671.41,13.03 670.21,26.67 669.90,37.29 C669.60,47.90 669.25,63.82 668.75,73.27 C668.24,82.71 667.74,88.71 666.89,93.96 C666.04,99.20 664.96,102.08 663.65,104.75 C662.33,107.42 660.94,108.32 659.01,109.97 C657.08,111.62 655.15,113.39 652.06,114.64 C648.97,115.90 645.11,116.62 640.47,117.52 C635.84,118.42 630.04,119.38 624.25,120.04 C618.46,120.70 611.89,120.88 605.71,121.48 C599.53,122.08 594.74,123.13 587.17,123.64 C579.60,124.15 569.17,124.90 560.29,124.54 C551.40,124.18 540.59,121.78 533.87,121.48 C527.15,121.18 524.21,122.08 519.96,122.74 C515.71,123.40 512.24,124.39 508.38,125.44 C504.51,126.49 499.88,127.99 496.79,129.04 C493.70,130.09 491.53,131.08 489.83,131.74 C488.14,132.40 487.36,132.61 486.59,132.99 C485.82,133.38 485.43,133.89 485.20,134.07" fill="none" stroke="#a6d4f4" stroke-width="1.00" stroke-linejoin="round" stroke-linecap="round" />
<path d="M485.20,122.74 C485.29,120.79 485.45,114.64 485.76,111.05 C486.07,107.45 486.37,103.91 487.05,101.15 C487.73,98.39 488.99,96.09 489.83,94.50 C490.68,92.91 491.23,92.52 492.15,91.62 C493.08,90.72 493.85,90.00 495.40,89.10 C496.94,88.20 499.26,87.30 501.42,86.22 C503.59,85.14 503.35,84.69 508.38,82.62 C513.40,80.55 522.13,76.99 531.55,73.81 C540.97,70.63 555.19,66.70 564.92,63.55 C574.66,60.41 583.77,56.90 589.95,54.92 C596.13,52.94 597.83,52.58 602.00,51.68 C606.17,50.78 610.50,50.24 614.98,49.52 C619.46,48.80 623.48,48.50 628.88,47.36 C634.29,46.22 643.02,44.00 647.42,42.68 C651.83,41.37 652.37,40.95 655.30,39.45 C658.24,37.95 662.49,35.46 665.04,33.69 C667.59,31.92 669.79,26.43 670.60,28.83 C671.41,31.23 670.21,40.08 669.90,48.08 C669.60,56.09 669.25,69.37 668.75,76.87 C668.24,84.36 667.74,88.71 666.89,93.06 C666.04,97.40 664.96,100.55 663.65,102.95 C662.33,105.35 660.94,105.95 659.01,107.45 C657.08,108.95 655.15,110.75 652.06,111.95 C648.97,113.15 645.11,113.81 640.47,114.64 C635.84,115.48 630.04,116.38 624.25,116.98 C618.46,117.58 611.89,117.97 605.71,118.24 C599.53,118.51 594.74,118.45 587.17,118.60 C579.60,118.75 569.17,119.74 560.29,119.14 C551.40,118.54 540.59,115.60 533.87,115.00 C527.15,114.41 524.21,115.24 519.96,115.54 C515.71,115.84 512.24,116.20 508.38,116.80 C504.51,117.40 499.88,118.42 496.79,119.14 C493.70,119.86 491.53,120.61 489.83,121.12 C488.14,121.63 487.36,121.93 486.59,122.20 C485.82,122.47 485.43,122.65 485.20,122.74" fill="none" stroke="#80b8ea" stroke-width="1.00" stroke-linejoin="round" stroke-linecap="round" />
<path d="M485.20,113.21 C485.29,112.40 485.45,110.45 485.76,108.35 C486.07,106.25 486.37,102.92 487.05,100.61 C487.73,98.30 488.99,96.00 489.83,94.50 C490.68,93.00 491.23,92.52 492.15,91.62 C493.08,90.72 493.85,89.94 495.40,89.10 C496.94,88.26 499.26,87.48 501.42,86.58 C503.59,85.68 503.35,85.32 508.38,83.70 C513.40,82.08 522.13,79.56 531.55,76.87 C540.97,74.17 555.19,70.21 564.92,67.51 C574.66,64.81 583.77,62.32 589.95,60.67 C596.13,59.03 597.83,58.46 602.00,57.62 C606.17,56.78 610.50,56.33 614.98,55.64 C619.46,54.95 623.48,54.50 628.88,53.48 C634.29,52.46 643.02,50.54 647.42,49.52 C651.83,48.50 652.37,48.20 655.30,47.36 C658.24,46.52 662.49,45.35 665.04,44.48 C667.59,43.61 669.79,40.35 670.60,42.15 C671.41,43.94 670.21,49.19 669.90,55.28 C669.60,61.36 669.25,72.52 668.75,78.66 C668.24,84.81 667.74,88.56 666.89,92.16 C666.04,95.76 664.96,98.15 663.65,100.25 C662.33,102.35 660.94,103.40 659.01,104.75 C657.08,106.10 655.15,107.36 652.06,108.35 C648.97,109.34 645.11,110.00 640.47,110.69 C635.84,111.38 630.04,112.04 624.25,112.49 C618.46,112.94 611.89,113.27 605.71,113.39 C599.53,113.51 594.74,113.30 587.17,113.21 C579.60,113.12 569.17,113.39 560.29,112.85 C551.40,112.31 540.59,110.45 533.87,109.97 C527.15,109.49 524.21,109.85 519.96,109.97 C515.71,110.09 512.24,110.39 508.38,110.69 C504.51,110.99 499.88,111.47 496.79,111.77 C493.70,112.07 491.53,112.31 489.83,112.49 C488.14,112.67 487.36,112.73 486.59,112.85 C485.82,112.97 485.43,113.15 485.20,113.21" fill="none" stroke="#609fde" stroke-width="1.00" stroke-linejoin="round" stroke-linecap="round" />
<path d="M485.20,106.55 C485.29,106.25 485.45,105.92 485.76,104.75 C486.07,103.58 486.37,101.24 487.05,99.53 C487.73,97.82 488.99,95.82 489.83,94.50 C490.68,93.18 491.23,92.52 492.15,91.62 C493.08,90.72 493.85,89.88 495.40,89.10 C496.94,88.32 499.26,87.63 501.42,86.94 C503.59,86.25 503.35,86.16 508.38,84.96 C513.40,83.76 522.13,81.69 531.55,79.74 C540.97,77.80 555.19,75.34 564.92,73.27 C574.66,71.20 583.77,68.74 589.95,67.33 C596.13,65.92 597.83,65.56 602.00,64.81 C606.17,64.06 610.50,63.52 614.98,62.83 C619.46,62.14 623.48,61.51 628.88,60.67 C634.29,59.84 643.02,58.55 647.42,57.80 C651.83,57.05 652.37,56.90 655.30,56.18 C658.24,55.46 662.49,54.20 665.04,53.48 C667.59,52.76 669.79,50.66 670.60,51.86 C671.41,53.06 670.21,55.91 669.90,60.67 C669.60,65.44 669.25,75.37 668.75,80.46 C668.24,85.56 667.74,88.41 666.89,91.26 C666.04,94.11 664.96,95.94 663.65,97.55 C662.33,99.17 660.94,99.92 659.01,100.97 C657.08,102.02 655.15,103.01 652.06,103.85 C648.97,104.69 645.11,105.41 640.47,106.01 C635.84,106.61 630.04,107.15 624.25,107.45 C618.46,107.75 611.89,107.81 605.71,107.81 C599.53,107.81 594.74,107.57 587.17,107.45 C579.60,107.33 569.17,107.51 560.29,107.09 C551.40,106.67 540.59,105.38 533.87,104.93 C527.15,104.48 524.21,104.42 519.96,104.39 C515.71,104.36 512.24,104.54 508.38,104.75 C504.51,104.96 499.88,105.41 496.79,105.65 C493.70,105.89 491.53,106.07 489.83,106.19 C488.14,106.31 487.36,106.31 486.59,106.37 C485.82,106.43 485.43,106.52 485.20,106.55" fill="none" stroke="#4a80c4" stroke-width="1.00" stroke-linejoin="round" stroke-linecap="round" />
<path d="M485.20,97.91 C485.29,97.85 485.45,97.82 485.76,97.55 C486.07,97.28 486.37,96.95 487.05,96.30 C487.73,95.64 488.99,94.38 489.83,93.60 C490.68,92.82 491.23,92.31 492.15,91.62 C493.08,90.93 493.85,90.12 495.40,89.46 C496.94,88.80 499.26,88.14 501.42,87.66 C503.59,87.18 503.35,87.24 508.38,86.58 C513.40,85.92 522.13,85.02 531.55,83.70 C540.97,82.38 555.19,80.16 564.92,78.66 C574.66,77.17 583.77,75.73 589.95,74.71 C596.13,73.69 597.83,73.18 602.00,72.55 C606.17,71.92 610.50,71.47 614.98,70.93 C619.46,70.39 623.48,69.85 628.88,69.31 C634.29,68.77 643.02,68.11 647.42,67.69 C651.83,67.27 652.37,67.12 655.30,66.79 C658.24,66.46 662.49,66.01 665.04,65.71 C667.59,65.41 669.79,64.03 670.60,64.99 C671.41,65.95 670.21,68.89 669.90,71.47 C669.60,74.05 669.25,78.22 668.75,80.46 C668.24,82.71 667.74,83.61 666.89,84.96 C666.04,86.31 664.96,87.45 663.65,88.56 C662.33,89.67 660.94,90.63 659.01,91.62 C657.08,92.61 655.15,93.36 652.06,94.50 C648.97,95.64 645.11,97.49 640.47,98.45 C635.84,99.41 630.04,99.89 624.25,100.25 C618.46,100.61 611.89,100.61 605.71,100.61 C599.53,100.61 594.74,100.37 587.17,100.25 C579.60,100.13 569.17,100.13 560.29,99.89 C551.40,99.65 540.59,99.08 533.87,98.81 C527.15,98.54 524.21,98.42 519.96,98.27 C515.71,98.12 512.24,98.00 508.38,97.91 C504.51,97.82 499.88,97.76 496.79,97.73 C493.70,97.70 491.53,97.70 489.83,97.73 C488.14,97.76 487.36,97.88 486.59,97.91 C485.82,97.94 485.43,97.91 485.20,97.91" fill="none" stroke="#34465f" stroke-width="1.00" stroke-linejoin="round" stroke-linecap="round" />
<line x1="603.10" y1="35.00" x2="603.10" y2="83.00" stroke="#333" stroke-width="1.20" />
<path d="M603.1,87 l-1.9,-4.6 l3.8,0 z" fill="#111"/>
<text x="598.90" y="41.80" font-size="9.00" text-anchor="end" fill="#111111" stroke="#111111" stroke-width="0.10" >2 mV s<tspan dy="-3.2" font-size="6.2">−1</tspan><tspan dy="3.2"></tspan></text>
<text x="598.90" y="91.00" font-size="9.00" text-anchor="end" fill="#111111" stroke="#111111" stroke-width="0.10" >50 mV s<tspan dy="-3.2" font-size="6.2">−1</tspan><tspan dy="3.2"></tspan></text>
<rect x="485.00" y="3.30" width="185.50" height="138.10" fill="none" stroke="#333333" stroke-width="1.00"/>
<line x1="485.50" y1="141.40" x2="485.50" y2="144.20" stroke="#333333" stroke-width="1.00" />
<line x1="531.50" y1="141.40" x2="531.50" y2="144.20" stroke="#333333" stroke-width="1.00" />
<line x1="577.50" y1="141.40" x2="577.50" y2="144.20" stroke="#333333" stroke-width="1.00" />
<line x1="624.50" y1="141.40" x2="624.50" y2="144.20" stroke="#333333" stroke-width="1.00" />
<line x1="670.50" y1="141.40" x2="670.50" y2="144.20" stroke="#333333" stroke-width="1.00" />
<line x1="489.50" y1="141.40" x2="489.50" y2="143.00" stroke="#333333" stroke-width="1.00" />
<line x1="494.50" y1="141.40" x2="494.50" y2="143.00" stroke="#333333" stroke-width="1.00" />
<line x1="499.50" y1="141.40" x2="499.50" y2="143.00" stroke="#333333" stroke-width="1.00" />
<line x1="503.50" y1="141.40" x2="503.50" y2="143.00" stroke="#333333" stroke-width="1.00" />
<line x1="508.50" y1="141.40" x2="508.50" y2="143.00" stroke="#333333" stroke-width="1.00" />
<line x1="513.50" y1="141.40" x2="513.50" y2="143.00" stroke="#333333" stroke-width="1.00" />
<line x1="517.50" y1="141.40" x2="517.50" y2="143.00" stroke="#333333" stroke-width="1.00" />
<line x1="522.50" y1="141.40" x2="522.50" y2="143.00" stroke="#333333" stroke-width="1.00" />
<line x1="526.50" y1="141.40" x2="526.50" y2="143.00" stroke="#333333" stroke-width="1.00" />
<line x1="536.50" y1="141.40" x2="536.50" y2="143.00" stroke="#333333" stroke-width="1.00" />
<line x1="540.50" y1="141.40" x2="540.50" y2="143.00" stroke="#333333" stroke-width="1.00" />
<line x1="545.50" y1="141.40" x2="545.50" y2="143.00" stroke="#333333" stroke-width="1.00" />
<line x1="550.50" y1="141.40" x2="550.50" y2="143.00" stroke="#333333" stroke-width="1.00" />
<line x1="554.50" y1="141.40" x2="554.50" y2="143.00" stroke="#333333" stroke-width="1.00" />
<line x1="559.50" y1="141.40" x2="559.50" y2="143.00" stroke="#333333" stroke-width="1.00" />
<line x1="563.50" y1="141.40" x2="563.50" y2="143.00" stroke="#333333" stroke-width="1.00" />
<line x1="568.50" y1="141.40" x2="568.50" y2="143.00" stroke="#333333" stroke-width="1.00" />
<line x1="573.50" y1="141.40" x2="573.50" y2="143.00" stroke="#333333" stroke-width="1.00" />
<line x1="582.50" y1="141.40" x2="582.50" y2="143.00" stroke="#333333" stroke-width="1.00" />
<line x1="587.50" y1="141.40" x2="587.50" y2="143.00" stroke="#333333" stroke-width="1.00" />
<line x1="591.50" y1="141.40" x2="591.50" y2="143.00" stroke="#333333" stroke-width="1.00" />
<line x1="596.50" y1="141.40" x2="596.50" y2="143.00" stroke="#333333" stroke-width="1.00" />
<line x1="601.50" y1="141.40" x2="601.50" y2="143.00" stroke="#333333" stroke-width="1.00" />
<line x1="605.50" y1="141.40" x2="605.50" y2="143.00" stroke="#333333" stroke-width="1.00" />
<line x1="610.50" y1="141.40" x2="610.50" y2="143.00" stroke="#333333" stroke-width="1.00" />
<line x1="614.50" y1="141.40" x2="614.50" y2="143.00" stroke="#333333" stroke-width="1.00" />
<line x1="619.50" y1="141.40" x2="619.50" y2="143.00" stroke="#333333" stroke-width="1.00" />
<line x1="628.50" y1="141.40" x2="628.50" y2="143.00" stroke="#333333" stroke-width="1.00" />
<line x1="633.50" y1="141.40" x2="633.50" y2="143.00" stroke="#333333" stroke-width="1.00" />
<line x1="638.50" y1="141.40" x2="638.50" y2="143.00" stroke="#333333" stroke-width="1.00" />
<line x1="642.50" y1="141.40" x2="642.50" y2="143.00" stroke="#333333" stroke-width="1.00" />
<line x1="647.50" y1="141.40" x2="647.50" y2="143.00" stroke="#333333" stroke-width="1.00" />
<line x1="652.50" y1="141.40" x2="652.50" y2="143.00" stroke="#333333" stroke-width="1.00" />
<line x1="656.50" y1="141.40" x2="656.50" y2="143.00" stroke="#333333" stroke-width="1.00" />
<line x1="661.50" y1="141.40" x2="661.50" y2="143.00" stroke="#333333" stroke-width="1.00" />
<line x1="665.50" y1="141.40" x2="665.50" y2="143.00" stroke="#333333" stroke-width="1.00" />
<text x="485.20" y="152.00" font-size="8.20" text-anchor="middle" fill="#111111" stroke="#111111" stroke-width="0.10" >0</text>
<text x="531.55" y="152.00" font-size="8.20" text-anchor="middle" fill="#111111" stroke="#111111" stroke-width="0.10" >1</text>
<text x="577.90" y="152.00" font-size="8.20" text-anchor="middle" fill="#111111" stroke="#111111" stroke-width="0.10" >2</text>
<text x="624.25" y="152.00" font-size="8.20" text-anchor="middle" fill="#111111" stroke="#111111" stroke-width="0.10" >3</text>
<text x="670.60" y="152.00" font-size="8.20" text-anchor="middle" fill="#111111" stroke="#111111" stroke-width="0.10" >4</text>
<line x1="485.00" y1="141.50" x2="482.20" y2="141.50" stroke="#333333" stroke-width="1.00" />
<line x1="485.00" y1="123.50" x2="482.20" y2="123.50" stroke="#333333" stroke-width="1.00" />
<line x1="485.00" y1="105.50" x2="482.20" y2="105.50" stroke="#333333" stroke-width="1.00" />
<line x1="485.00" y1="87.50" x2="482.20" y2="87.50" stroke="#333333" stroke-width="1.00" />
<line x1="485.00" y1="69.50" x2="482.20" y2="69.50" stroke="#333333" stroke-width="1.00" />
<line x1="485.00" y1="51.50" x2="482.20" y2="51.50" stroke="#333333" stroke-width="1.00" />
<line x1="485.00" y1="33.50" x2="482.20" y2="33.50" stroke="#333333" stroke-width="1.00" />
<line x1="485.00" y1="15.50" x2="482.20" y2="15.50" stroke="#333333" stroke-width="1.00" />
<line x1="485.00" y1="132.50" x2="483.40" y2="132.50" stroke="#333333" stroke-width="1.00" />
<line x1="485.00" y1="114.50" x2="483.40" y2="114.50" stroke="#333333" stroke-width="1.00" />
<line x1="485.00" y1="96.50" x2="483.40" y2="96.50" stroke="#333333" stroke-width="1.00" />
<line x1="485.00" y1="78.50" x2="483.40" y2="78.50" stroke="#333333" stroke-width="1.00" />
<line x1="485.00" y1="60.50" x2="483.40" y2="60.50" stroke="#333333" stroke-width="1.00" />
<line x1="485.00" y1="42.50" x2="483.40" y2="42.50" stroke="#333333" stroke-width="1.00" />
<line x1="485.00" y1="24.50" x2="483.40" y2="24.50" stroke="#333333" stroke-width="1.00" />
<line x1="485.00" y1="6.50" x2="483.40" y2="6.50" stroke="#333333" stroke-width="1.00" />
<text x="480.90" y="144.03" font-size="8.20" text-anchor="end" fill="#111111" stroke="#111111" stroke-width="0.10" >-300</text>
<text x="480.90" y="126.04" font-size="8.20" text-anchor="end" fill="#111111" stroke="#111111" stroke-width="0.10" >-200</text>
<text x="480.90" y="108.05" font-size="8.20" text-anchor="end" fill="#111111" stroke="#111111" stroke-width="0.10" >-100</text>
<text x="480.90" y="90.06" font-size="8.20" text-anchor="end" fill="#111111" stroke="#111111" stroke-width="0.10" >0</text>
<text x="480.90" y="72.07" font-size="8.20" text-anchor="end" fill="#111111" stroke="#111111" stroke-width="0.10" >100</text>
<text x="480.90" y="54.08" font-size="8.20" text-anchor="end" fill="#111111" stroke="#111111" stroke-width="0.10" >200</text>
<text x="480.90" y="36.09" font-size="8.20" text-anchor="end" fill="#111111" stroke="#111111" stroke-width="0.10" >300</text>
<text x="480.90" y="18.10" font-size="8.20" text-anchor="end" fill="#111111" stroke="#111111" stroke-width="0.10" >400</text>
<text x="575.20" y="163.70" font-size="9.60" text-anchor="middle" fill="#111111" stroke="#111111" stroke-width="0.10" >Potential (V vs. Li/Li<tspan dy="-3.3" font-size="6.3">+</tspan><tspan dy="3.3">)</tspan></text>
<text x="461.00" y="76.00" font-size="9.60" text-anchor="middle" fill="#111111" stroke="#111111" stroke-width="0.10"  transform="rotate(-90 461.00 76.00)">Current · Scan rate (F g<tspan dy="-3.3" font-size="6.3">-1</tspan><tspan dy="3.3">)</tspan></text>
<text x="447.30" y="15.00" font-size="15.20" text-anchor="start" fill="#111111" stroke="#111111" stroke-width="0.70" >(c)</text>
<path d="M31.80,273.94 L31.80,273.24 L31.81,271.92 L31.82,270.55 L31.83,269.27 L31.84,268.01 L31.85,266.78 L31.86,265.56 L31.87,264.31 L31.89,262.97 L31.90,261.60 L31.92,260.19 L31.93,258.77 L31.95,257.32 L31.97,255.87 L31.99,254.41 L32.01,252.94 L32.03,251.47 L32.05,250.00 L32.07,248.53 L32.09,247.04 L32.11,245.56 L32.13,244.06 L32.15,242.57 L32.18,241.08 L32.20,239.58 L32.23,238.09 L32.25,236.60 L32.28,235.11 L32.30,233.62 L32.33,232.13 L32.35,230.64 L32.38,229.15 L32.41,227.66 L32.44,226.16 L32.47,224.65 L32.49,223.14 L32.52,221.61 L32.55,220.07 L32.58,218.54 L32.61,217.02 L32.64,215.52 L32.67,214.03 L32.71,212.54 L32.74,211.05 L32.77,209.55 L32.80,208.04 L32.84,206.52 L32.87,204.97 L32.90,203.38 L32.94,201.77 L32.97,200.13 L33.01,198.47 L33.04,196.80 L33.08,195.12 L33.11,193.42 L33.15,191.70 L33.18,189.97 L33.22,188.22 L33.26,186.46 L33.29,184.68 L33.35,187.76 L33.45,191.76 L33.55,195.76 L33.65,199.76 L33.75,203.76 L33.85,207.77 L33.95,211.77 L34.05,215.77 L34.15,219.77 L34.25,223.77 L34.35,227.77 L34.45,231.77 L34.55,235.77 L34.65,239.78 L34.74,243.78 L34.84,247.78 L34.94,251.78 L35.04,255.78 L35.14,259.78 L35.24,263.78 L35.34,267.79 L35.44,271.79 L35.54,275.79 L35.64,279.79 L35.74,283.79 L35.84,287.79 L35.94,291.79 L36.04,295.80 L36.14,299.80 L36.23,303.80 L36.33,307.80" fill="none" stroke="#f6b4b0" stroke-width="1.00" stroke-linejoin="round" stroke-linecap="round" />
<path d="M31.80,273.94 L31.81,273.24 L31.83,271.92 L31.86,270.55 L31.90,269.27 L31.93,268.01 L31.98,266.78 L32.02,265.56 L32.07,264.31 L32.13,262.97 L32.18,261.60 L32.24,260.19 L32.30,258.77 L32.36,257.32 L32.43,255.87 L32.50,254.41 L32.57,252.94 L32.64,251.47 L32.72,250.00 L32.80,248.53 L32.88,247.04 L32.96,245.56 L33.04,244.06 L33.13,242.57 L33.22,241.08 L33.31,239.58 L33.40,238.09 L33.49,236.60 L33.59,235.11 L33.68,233.62 L33.78,232.13 L33.88,230.64 L33.98,229.15 L34.08,227.66 L34.19,226.16 L34.30,224.65 L34.40,223.14 L34.51,221.61 L34.62,220.07 L34.74,218.54 L34.85,217.02 L34.96,215.52 L35.08,214.03 L35.20,212.54 L35.32,211.05 L35.44,209.55 L35.56,208.04 L35.68,206.52 L35.81,204.97 L35.93,203.38 L36.06,201.77 L36.19,200.13 L36.32,198.47 L36.45,196.80 L36.58,195.12 L36.72,193.42 L36.85,191.70 L36.99,189.97 L37.12,188.22 L37.26,186.46 L37.40,184.68 L37.52,187.76 L37.72,191.76 L37.92,195.76 L38.12,199.76 L38.32,203.76 L38.53,207.77 L38.73,211.77 L38.93,215.77 L39.13,219.77 L39.33,223.77 L39.53,227.77 L39.73,231.77 L39.93,235.77 L40.13,239.78 L40.33,243.78 L40.53,247.78 L40.73,251.78 L40.93,255.78 L41.13,259.78 L41.33,263.78 L41.53,267.79 L41.73,271.79 L41.93,275.79 L42.13,279.79 L42.33,283.79 L42.53,287.79 L42.73,291.79 L42.93,295.80 L43.13,299.80 L43.33,303.80 L43.53,307.80" fill="none" stroke="#f07a74" stroke-width="1.00" stroke-linejoin="round" stroke-linecap="round" />
<path d="M31.80,273.94 L31.84,273.24 L31.91,271.92 L32.00,270.55 L32.11,269.27 L32.23,268.01 L32.37,266.78 L32.51,265.56 L32.67,264.31 L32.84,262.97 L33.02,261.60 L33.20,260.19 L33.40,258.77 L33.60,257.32 L33.81,255.87 L34.03,254.41 L34.26,252.94 L34.49,251.47 L34.74,250.00 L34.98,248.53 L35.24,247.04 L35.50,245.56 L35.77,244.06 L36.04,242.57 L36.32,241.08 L36.61,239.58 L36.90,238.09 L37.19,236.60 L37.50,235.11 L37.80,233.62 L38.12,232.13 L38.44,230.64 L38.76,229.15 L39.09,227.66 L39.42,226.16 L39.76,224.65 L40.10,223.14 L40.45,221.61 L40.81,220.07 L41.16,218.54 L41.53,217.02 L41.89,215.52 L42.27,214.03 L42.64,212.54 L43.02,211.05 L43.41,209.55 L43.80,208.04 L44.19,206.52 L44.59,204.97 L44.99,203.38 L45.39,201.77 L45.80,200.13 L46.22,198.47 L46.63,196.80 L47.06,195.12 L47.48,193.42 L47.91,191.70 L48.35,189.97 L48.78,188.22 L49.22,186.46 L49.67,184.68 L50.04,188.37 L50.65,192.35 L51.26,196.34 L51.87,200.32 L52.48,204.30 L53.09,208.28 L53.70,212.26 L54.31,216.24 L54.92,220.22 L55.53,224.20 L56.14,228.18 L56.75,232.16 L57.36,236.14 L57.97,240.13 L58.58,244.11 L59.19,248.09 L59.80,252.07 L60.41,256.05 L61.02,260.03 L61.63,264.01 L62.24,267.99 L62.85,271.97 L63.46,275.95 L64.07,279.93 L64.68,283.91 L65.29,287.90 L65.90,291.88 L66.51,295.86 L67.12,299.84 L67.73,303.82 L68.34,307.80" fill="none" stroke="#e04848" stroke-width="1.00" stroke-linejoin="round" stroke-linecap="round" />
<path d="M31.80,273.94 L31.90,271.63 L32.08,267.19 L32.31,263.61 L32.59,261.31 L32.90,259.29 L33.25,257.57 L33.63,256.07 L34.03,254.54 L34.46,252.84 L34.92,251.13 L35.40,249.44 L35.90,247.78 L36.43,246.16 L36.97,244.60 L37.53,243.10 L38.12,241.66 L38.72,240.30 L39.34,238.98 L39.97,237.67 L40.63,236.39 L41.30,235.12 L41.98,233.88 L42.69,232.66 L43.40,231.46 L44.14,230.28 L44.89,229.12 L45.65,227.98 L46.42,226.85 L47.21,225.73 L48.02,224.62 L48.84,223.51 L49.67,222.39 L50.51,221.27 L51.37,220.12 L52.24,218.95 L53.12,217.75 L54.01,216.51 L54.92,215.21 L55.84,213.90 L56.77,212.59 L57.71,211.28 L58.67,209.96 L59.63,208.65 L60.61,207.33 L61.59,206.01 L62.59,204.67 L63.60,203.33 L64.62,201.97 L65.65,200.59 L66.70,199.19 L67.75,197.79 L68.81,196.38 L69.88,194.95 L70.97,193.52 L72.06,192.08 L73.16,190.63 L74.28,189.16 L75.40,187.68 L76.53,186.19 L77.67,184.68 L78.55,189.30 L79.98,193.44 L81.40,197.58 L82.83,201.71 L84.26,205.83 L85.69,209.94 L87.12,214.05 L88.55,218.15 L89.98,222.24 L91.41,226.31 L92.84,230.38 L94.26,234.44 L95.69,238.49 L97.12,242.53 L98.55,246.55 L99.98,250.57 L101.41,254.57 L102.84,258.55 L104.27,262.52 L105.69,266.47 L107.12,270.41 L108.55,274.33 L109.98,278.22 L111.41,282.09 L112.84,285.93 L114.27,289.74 L115.70,293.51 L117.12,297.24 L118.55,300.90 L119.98,304.47 L121.41,307.80" fill="none" stroke="#7c3434" stroke-width="1.00" stroke-linejoin="round" stroke-linecap="round" />
<path d="M129.50,273.94 L129.51,272.92 L129.52,270.98 L129.53,269.16 L129.54,267.67 L129.56,266.28 L129.58,265.00 L129.60,263.79 L129.63,262.53 L129.65,261.15 L129.67,259.74 L129.70,258.30 L129.73,256.84 L129.76,255.37 L129.79,253.89 L129.82,252.42 L129.85,250.94 L129.89,249.46 L129.92,247.99 L129.96,246.52 L129.99,245.05 L130.03,243.58 L130.07,242.11 L130.11,240.65 L130.15,239.20 L130.19,237.76 L130.23,236.34 L130.28,234.92 L130.32,233.52 L130.36,232.12 L130.41,230.72 L130.45,229.33 L130.50,227.93 L130.55,226.52 L130.60,225.10 L130.65,223.66 L130.70,222.19 L130.75,220.71 L130.80,219.23 L130.85,217.75 L130.90,216.27 L130.95,214.79 L131.01,213.31 L131.06,211.83 L131.11,210.33 L131.17,208.83 L131.23,207.32 L131.28,205.79 L131.34,204.25 L131.40,202.69 L131.46,201.10 L131.52,199.51 L131.57,197.90 L131.63,196.29 L131.70,194.67 L131.76,193.04 L131.82,191.40 L131.88,189.75 L131.94,188.07 L132.01,186.39 L132.07,184.68 L132.12,187.76 L132.20,191.76 L132.29,195.76 L132.37,199.76 L132.45,203.76 L132.53,207.77 L132.62,211.77 L132.70,215.77 L132.78,219.77 L132.86,223.77 L132.95,227.77 L133.03,231.77 L133.11,235.77 L133.19,239.78 L133.28,243.78 L133.36,247.78 L133.44,251.78 L133.53,255.78 L133.61,259.78 L133.69,263.78 L133.77,267.79 L133.86,271.79 L133.94,275.79 L134.02,279.79 L134.10,283.79 L134.19,287.79 L134.27,291.79 L134.35,295.80 L134.43,299.80 L134.52,303.80 L134.60,307.80" fill="none" stroke="#f6b4b0" stroke-width="1.00" stroke-linejoin="round" stroke-linecap="round" />
<path d="M129.50,273.94 L129.51,272.92 L129.53,270.98 L129.56,269.16 L129.59,267.67 L129.63,266.28 L129.66,265.00 L129.71,263.79 L129.75,262.53 L129.80,261.15 L129.85,259.74 L129.91,258.30 L129.97,256.84 L130.02,255.37 L130.09,253.89 L130.15,252.42 L130.22,250.94 L130.28,249.46 L130.35,247.99 L130.43,246.52 L130.50,245.05 L130.58,243.58 L130.66,242.11 L130.73,240.65 L130.82,239.20 L130.90,237.76 L130.98,236.34 L131.07,234.92 L131.16,233.52 L131.25,232.12 L131.34,230.72 L131.43,229.33 L131.53,227.93 L131.62,226.52 L131.72,225.10 L131.82,223.66 L131.92,222.19 L132.02,220.71 L132.12,219.23 L132.23,217.75 L132.33,216.27 L132.44,214.79 L132.55,213.31 L132.66,211.83 L132.77,210.33 L132.88,208.83 L132.99,207.32 L133.11,205.79 L133.22,204.25 L133.34,202.69 L133.46,201.10 L133.58,199.51 L133.70,197.90 L133.82,196.29 L133.94,194.67 L134.07,193.04 L134.19,191.40 L134.32,189.75 L134.44,188.07 L134.57,186.39 L134.70,184.68 L134.84,188.37 L135.06,192.35 L135.28,196.34 L135.50,200.32 L135.73,204.30 L135.95,208.28 L136.17,212.26 L136.39,216.24 L136.61,220.22 L136.83,224.20 L137.06,228.18 L137.28,232.16 L137.50,236.14 L137.72,240.13 L137.94,244.11 L138.16,248.09 L138.39,252.07 L138.61,256.05 L138.83,260.03 L139.05,264.01 L139.27,267.99 L139.49,271.97 L139.72,275.95 L139.94,279.93 L140.16,283.91 L140.38,287.90 L140.60,291.88 L140.82,295.86 L141.05,299.84 L141.27,303.82 L141.49,307.80" fill="none" stroke="#f07a74" stroke-width="1.00" stroke-linejoin="round" stroke-linecap="round" />
<path d="M129.50,275.48 L129.54,274.77 L129.62,273.43 L129.73,272.03 L129.85,270.73 L129.99,269.44 L130.15,268.19 L130.32,266.96 L130.50,265.68 L130.69,264.32 L130.89,262.92 L131.11,261.49 L131.33,260.04 L131.57,258.58 L131.81,257.10 L132.06,255.61 L132.32,254.12 L132.59,252.63 L132.87,251.13 L133.15,249.63 L133.44,248.12 L133.74,246.60 L134.05,245.09 L134.36,243.57 L134.69,242.05 L135.01,240.53 L135.35,239.01 L135.69,237.49 L136.03,235.98 L136.39,234.46 L136.75,232.95 L137.11,231.43 L137.48,229.92 L137.86,228.40 L138.24,226.87 L138.63,225.34 L139.03,223.80 L139.43,222.25 L139.83,220.68 L140.24,219.12 L140.66,217.58 L141.08,216.05 L141.50,214.53 L141.94,213.02 L142.37,211.50 L142.81,209.98 L143.26,208.45 L143.71,206.89 L144.17,205.32 L144.63,203.71 L145.09,202.06 L145.56,200.40 L146.04,198.71 L146.52,197.01 L147.00,195.30 L147.49,193.57 L147.98,191.82 L148.48,190.06 L148.98,188.28 L149.49,186.49 L150.00,184.68 L150.35,190.84 L150.94,195.12 L151.53,199.38 L152.11,203.64 L152.70,207.87 L153.28,212.09 L153.87,216.29 L154.45,220.48 L155.04,224.65 L155.62,228.79 L156.21,232.92 L156.80,237.03 L157.38,241.12 L157.97,245.18 L158.55,249.22 L159.14,253.23 L159.72,257.22 L160.31,261.18 L160.89,265.11 L161.48,269.01 L162.07,272.87 L162.65,276.69 L163.24,280.47 L163.82,284.20 L164.41,287.88 L164.99,291.50 L165.58,295.05 L166.16,298.51 L166.75,301.85 L167.34,305.03 L167.92,307.80" fill="none" stroke="#e04848" stroke-width="1.00" stroke-linejoin="round" stroke-linecap="round" />
<path d="M129.50,273.94 L129.60,272.92 L129.79,270.98 L130.04,269.16 L130.33,267.67 L130.65,266.28 L131.02,265.00 L131.41,263.79 L131.84,262.53 L132.29,261.15 L132.77,259.74 L133.27,258.30 L133.79,256.84 L134.34,255.37 L134.91,253.89 L135.50,252.42 L136.11,250.94 L136.74,249.46 L137.39,247.99 L138.05,246.52 L138.74,245.05 L139.44,243.58 L140.15,242.11 L140.89,240.65 L141.64,239.20 L142.41,237.76 L143.19,236.34 L143.99,234.92 L144.80,233.52 L145.63,232.12 L146.47,230.72 L147.32,229.33 L148.19,227.93 L149.07,226.52 L149.97,225.10 L150.88,223.66 L151.80,222.19 L152.74,220.71 L153.69,219.23 L154.65,217.75 L155.62,216.27 L156.61,214.79 L157.61,213.31 L158.62,211.83 L159.64,210.33 L160.67,208.83 L161.71,207.32 L162.77,205.79 L163.84,204.25 L164.92,202.69 L166.01,201.10 L167.11,199.51 L168.22,197.90 L169.34,196.29 L170.47,194.67 L171.62,193.04 L172.77,191.40 L173.94,189.75 L175.11,188.07 L176.29,186.39 L177.49,184.68 L178.32,193.91 L179.68,198.64 L181.04,203.32 L182.39,207.97 L183.75,212.57 L185.11,217.12 L186.47,221.63 L187.82,226.10 L189.18,230.51 L190.54,234.88 L191.90,239.19 L193.25,243.46 L194.61,247.66 L195.97,251.81 L197.33,255.89 L198.69,259.92 L200.04,263.87 L201.40,267.76 L202.76,271.57 L204.12,275.31 L205.47,278.96 L206.83,282.51 L208.19,285.98 L209.55,289.33 L210.90,292.57 L212.26,295.67 L213.62,298.62 L214.98,301.40 L216.34,303.94 L217.69,306.18 L219.05,307.80" fill="none" stroke="#7c3434" stroke-width="1.00" stroke-linejoin="round" stroke-linecap="round" />
<rect x="31.00" y="169.30" width="196.40" height="138.50" fill="none" stroke="#333333" stroke-width="1.00"/>
<line x1="129.30" y1="169.30" x2="129.30" y2="307.80" stroke="#333333" stroke-width="1.00" />
<line x1="31.50" y1="307.80" x2="31.50" y2="310.60" stroke="#333333" stroke-width="1.00" />
<line x1="58.50" y1="307.80" x2="58.50" y2="310.60" stroke="#333333" stroke-width="1.00" />
<line x1="85.50" y1="307.80" x2="85.50" y2="310.60" stroke="#333333" stroke-width="1.00" />
<line x1="111.50" y1="307.80" x2="111.50" y2="310.60" stroke="#333333" stroke-width="1.00" />
<line x1="129.50" y1="307.80" x2="129.50" y2="310.60" stroke="#333333" stroke-width="1.00" />
<line x1="159.50" y1="307.80" x2="159.50" y2="310.60" stroke="#333333" stroke-width="1.00" />
<line x1="189.50" y1="307.80" x2="189.50" y2="310.60" stroke="#333333" stroke-width="1.00" />
<line x1="219.50" y1="307.80" x2="219.50" y2="310.60" stroke="#333333" stroke-width="1.00" />
<line x1="45.50" y1="307.80" x2="45.50" y2="309.40" stroke="#333333" stroke-width="1.00" />
<line x1="71.50" y1="307.80" x2="71.50" y2="309.40" stroke="#333333" stroke-width="1.00" />
<line x1="98.50" y1="307.80" x2="98.50" y2="309.40" stroke="#333333" stroke-width="1.00" />
<line x1="125.50" y1="307.80" x2="125.50" y2="309.40" stroke="#333333" stroke-width="1.00" />
<line x1="144.50" y1="307.80" x2="144.50" y2="309.40" stroke="#333333" stroke-width="1.00" />
<line x1="174.50" y1="307.80" x2="174.50" y2="309.40" stroke="#333333" stroke-width="1.00" />
<line x1="204.50" y1="307.80" x2="204.50" y2="309.40" stroke="#333333" stroke-width="1.00" />
<text x="31.80" y="318.00" font-size="8.20" text-anchor="middle" fill="#111111" stroke="#111111" stroke-width="0.10" >0</text>
<text x="58.47" y="318.00" font-size="8.20" text-anchor="middle" fill="#111111" stroke="#111111" stroke-width="0.10" >100</text>
<text x="85.14" y="318.00" font-size="8.20" text-anchor="middle" fill="#111111" stroke="#111111" stroke-width="0.10" >200</text>
<text x="111.81" y="318.00" font-size="8.20" text-anchor="middle" fill="#111111" stroke="#111111" stroke-width="0.10" >300</text>
<text x="129.50" y="318.00" font-size="8.20" text-anchor="middle" fill="#111111" stroke="#111111" stroke-width="0.10" >0</text>
<text x="159.40" y="318.00" font-size="8.20" text-anchor="middle" fill="#111111" stroke="#111111" stroke-width="0.10" >2000</text>
<text x="189.30" y="318.00" font-size="8.20" text-anchor="middle" fill="#111111" stroke="#111111" stroke-width="0.10" >4000</text>
<text x="219.20" y="318.00" font-size="8.20" text-anchor="middle" fill="#111111" stroke="#111111" stroke-width="0.10" >6000</text>
<line x1="31.00" y1="307.50" x2="28.20" y2="307.50" stroke="#333333" stroke-width="1.00" />
<line x1="31.00" y1="277.50" x2="28.20" y2="277.50" stroke="#333333" stroke-width="1.00" />
<line x1="31.00" y1="246.50" x2="28.20" y2="246.50" stroke="#333333" stroke-width="1.00" />
<line x1="31.00" y1="215.50" x2="28.20" y2="215.50" stroke="#333333" stroke-width="1.00" />
<line x1="31.00" y1="184.50" x2="28.20" y2="184.50" stroke="#333333" stroke-width="1.00" />
<line x1="31.00" y1="292.50" x2="29.40" y2="292.50" stroke="#333333" stroke-width="1.00" />
<line x1="31.00" y1="261.50" x2="29.40" y2="261.50" stroke="#333333" stroke-width="1.00" />
<line x1="31.00" y1="230.50" x2="29.40" y2="230.50" stroke="#333333" stroke-width="1.00" />
<line x1="31.00" y1="200.50" x2="29.40" y2="200.50" stroke="#333333" stroke-width="1.00" />
<text x="27.20" y="310.20" font-size="8.20" text-anchor="end" fill="#111111" stroke="#111111" stroke-width="0.10" >0</text>
<text x="27.20" y="279.42" font-size="8.20" text-anchor="end" fill="#111111" stroke="#111111" stroke-width="0.10" >1</text>
<text x="27.20" y="248.64" font-size="8.20" text-anchor="end" fill="#111111" stroke="#111111" stroke-width="0.10" >2</text>
<text x="27.20" y="217.86" font-size="8.20" text-anchor="end" fill="#111111" stroke="#111111" stroke-width="0.10" >3</text>
<text x="27.20" y="187.08" font-size="8.20" text-anchor="end" fill="#111111" stroke="#111111" stroke-width="0.10" >4</text>
<line x1="35.80" y1="180.90" x2="85.40" y2="180.90" stroke="#1a1a1a" stroke-width="1.40" />
<path d="M32.80,180.9 l4.0,-2.1 l0,4.2 z" fill="#111"/>
<text x="32.00" y="178.00" font-size="8.30" text-anchor="start" fill="#111111" stroke="#111111" stroke-width="0.10" >10.0 A g<tspan dy="-3.0" font-size="5.3">−1</tspan><tspan dy="3.0"></tspan></text>
<text x="78.20" y="178.00" font-size="8.30" text-anchor="start" fill="#111111" stroke="#111111" stroke-width="0.10" >1.0 A g<tspan dy="-3.0" font-size="5.3">−1</tspan><tspan dy="3.0"></tspan></text>
<line x1="133.80" y1="180.90" x2="183.00" y2="180.90" stroke="#1a1a1a" stroke-width="1.40" />
<path d="M130.80,180.9 l4.0,-2.1 l0,4.2 z" fill="#111"/>
<text x="129.80" y="178.00" font-size="8.30" text-anchor="start" fill="#111111" stroke="#111111" stroke-width="0.10" >1.0 A g<tspan dy="-3.0" font-size="5.3">−1</tspan><tspan dy="3.0"></tspan></text>
<text x="176.00" y="178.00" font-size="8.30" text-anchor="start" fill="#111111" stroke="#111111" stroke-width="0.10" >0.1 A g<tspan dy="-3.0" font-size="5.3">−1</tspan><tspan dy="3.0"></tspan></text>
<text x="78.80" y="327.30" font-size="9.20" text-anchor="middle" fill="#111111" stroke="#111111" stroke-width="0.10" >Time (s)</text>
<text x="176.40" y="327.30" font-size="9.20" text-anchor="middle" fill="#111111" stroke="#111111" stroke-width="0.10" >Time (s)</text>
<text x="19.20" y="235.60" font-size="9.25" text-anchor="middle" fill="#111111" stroke="#111111" stroke-width="0.10"  transform="rotate(-90 19.20 235.60)">Potential (V vs. Li/Li<tspan dy="-3.3" font-size="6.3">+</tspan><tspan dy="3.3">)</tspan></text>
<text x="9.30" y="173.90" font-size="15.20" text-anchor="start" fill="#111111" stroke="#111111" stroke-width="0.70" >(d)</text>
<path d="M254.20,270.50 L254.20,269.82 L254.21,268.55 L254.22,267.23 L254.22,266.00 L254.23,264.78 L254.24,263.59 L254.26,262.42 L254.27,261.21 L254.28,259.92 L254.30,258.59 L254.31,257.24 L254.33,255.86 L254.34,254.47 L254.36,253.07 L254.38,251.66 L254.39,250.25 L254.41,248.83 L254.43,247.41 L254.45,245.98 L254.47,244.55 L254.49,243.12 L254.51,241.68 L254.53,240.24 L254.56,238.80 L254.58,237.36 L254.60,235.92 L254.62,234.48 L254.65,233.04 L254.67,231.61 L254.70,230.17 L254.72,228.73 L254.75,227.30 L254.77,225.86 L254.80,224.41 L254.83,222.96 L254.85,221.50 L254.88,220.02 L254.91,218.54 L254.94,217.06 L254.97,215.60 L254.99,214.15 L255.02,212.71 L255.05,211.27 L255.08,209.83 L255.11,208.39 L255.14,206.93 L255.18,205.46 L255.21,203.97 L255.24,202.44 L255.27,200.88 L255.30,199.30 L255.34,197.71 L255.37,196.10 L255.40,194.47 L255.43,192.83 L255.47,191.17 L255.50,189.50 L255.54,187.82 L255.57,186.11 L255.61,184.40 L255.64,187.47 L255.69,191.47 L255.74,195.47 L255.80,199.47 L255.85,203.46 L255.90,207.46 L255.95,211.46 L256.01,215.46 L256.06,219.45 L256.11,223.45 L256.16,227.45 L256.22,231.45 L256.27,235.44 L256.32,239.44 L256.37,243.44 L256.43,247.44 L256.48,251.43 L256.53,255.43 L256.58,259.43 L256.64,263.43 L256.69,267.42 L256.74,271.42 L256.79,275.42 L256.85,279.42 L256.90,283.41 L256.95,287.41 L257.00,291.41 L257.06,295.41 L257.11,299.40 L257.16,303.40 L257.21,307.40" fill="none" stroke="#a6d4f4" stroke-width="1.00" stroke-linejoin="round" stroke-linecap="round" />
<path d="M254.20,270.50 L254.21,269.82 L254.23,268.55 L254.25,267.23 L254.27,266.00 L254.30,264.78 L254.34,263.59 L254.37,262.42 L254.41,261.21 L254.45,259.92 L254.49,258.59 L254.54,257.24 L254.58,255.86 L254.63,254.47 L254.68,253.07 L254.74,251.66 L254.79,250.25 L254.85,248.83 L254.91,247.41 L254.97,245.98 L255.03,244.55 L255.09,243.12 L255.16,241.68 L255.22,240.24 L255.29,238.80 L255.36,237.36 L255.43,235.92 L255.50,234.48 L255.57,233.04 L255.65,231.61 L255.72,230.17 L255.80,228.73 L255.88,227.30 L255.95,225.86 L256.03,224.41 L256.12,222.96 L256.20,221.50 L256.28,220.02 L256.37,218.54 L256.45,217.06 L256.54,215.60 L256.63,214.15 L256.72,212.71 L256.81,211.27 L256.90,209.83 L256.99,208.39 L257.09,206.93 L257.18,205.46 L257.28,203.97 L257.37,202.44 L257.47,200.88 L257.57,199.30 L257.67,197.71 L257.77,196.10 L257.87,194.47 L257.98,192.83 L258.08,191.17 L258.18,189.50 L258.29,187.82 L258.39,186.11 L258.50,184.40 L258.56,187.47 L258.66,191.47 L258.75,195.47 L258.85,199.47 L258.94,203.46 L259.04,207.46 L259.14,211.46 L259.23,215.46 L259.33,219.45 L259.42,223.45 L259.52,227.45 L259.61,231.45 L259.71,235.44 L259.81,239.44 L259.90,243.44 L260.00,247.44 L260.09,251.43 L260.19,255.43 L260.29,259.43 L260.38,263.43 L260.48,267.42 L260.57,271.42 L260.67,275.42 L260.76,279.42 L260.86,283.41 L260.96,287.41 L261.05,291.41 L261.15,295.41 L261.24,299.40 L261.34,303.40 L261.44,307.40" fill="none" stroke="#6cb4ea" stroke-width="1.00" stroke-linejoin="round" stroke-linecap="round" />
<path d="M254.20,273.57 L254.23,272.87 L254.30,271.56 L254.38,270.18 L254.47,268.91 L254.58,267.65 L254.70,266.42 L254.82,265.21 L254.96,263.95 L255.11,262.62 L255.27,261.24 L255.43,259.84 L255.60,258.41 L255.78,256.97 L255.97,255.52 L256.16,254.06 L256.36,252.60 L256.56,251.13 L256.78,249.66 L256.99,248.18 L257.22,246.70 L257.45,245.22 L257.68,243.73 L257.92,242.23 L258.17,240.74 L258.42,239.25 L258.67,237.76 L258.93,236.27 L259.20,234.78 L259.47,233.29 L259.74,231.80 L260.02,230.32 L260.31,228.83 L260.59,227.34 L260.89,225.84 L261.18,224.33 L261.49,222.82 L261.79,221.30 L262.10,219.76 L262.42,218.23 L262.73,216.71 L263.06,215.21 L263.38,213.72 L263.71,212.23 L264.05,210.74 L264.38,209.25 L264.72,207.74 L265.07,206.22 L265.42,204.67 L265.77,203.09 L266.13,201.47 L266.49,199.83 L266.85,198.18 L267.22,196.51 L267.59,194.83 L267.96,193.13 L268.34,191.41 L268.72,189.68 L269.10,187.94 L269.49,186.18 L269.88,184.40 L270.18,188.09 L270.66,192.07 L271.15,196.04 L271.63,200.02 L272.12,204.00 L272.60,207.97 L273.09,211.95 L273.58,215.93 L274.06,219.91 L274.55,223.88 L275.03,227.86 L275.52,231.84 L276.01,235.81 L276.49,239.79 L276.98,243.77 L277.46,247.74 L277.95,251.72 L278.44,255.70 L278.92,259.68 L279.41,263.65 L279.89,267.63 L280.38,271.61 L280.86,275.58 L281.35,279.56 L281.84,283.54 L282.32,287.51 L282.81,291.49 L283.29,295.47 L283.78,299.45 L284.27,303.42 L284.75,307.40" fill="none" stroke="#4a94dc" stroke-width="1.00" stroke-linejoin="round" stroke-linecap="round" />
<path d="M254.20,273.88 L254.29,272.44 L254.45,269.69 L254.65,267.20 L254.90,265.30 L255.18,263.57 L255.48,262.02 L255.82,260.54 L256.18,258.93 L256.56,257.05 L256.96,255.07 L257.39,253.02 L257.83,250.94 L258.29,248.85 L258.78,246.81 L259.28,244.84 L259.79,243.01 L260.32,241.28 L260.87,239.56 L261.44,237.85 L262.01,236.17 L262.61,234.50 L263.21,232.87 L263.84,231.25 L264.47,229.67 L265.12,228.12 L265.78,226.60 L266.46,225.11 L267.14,223.66 L267.84,222.23 L268.55,220.83 L269.28,219.47 L270.01,218.13 L270.76,216.83 L271.52,215.57 L272.29,214.34 L273.07,213.15 L273.86,211.98 L274.66,210.84 L275.48,209.71 L276.30,208.60 L277.13,207.49 L277.98,206.38 L278.83,205.26 L279.70,204.12 L280.57,202.96 L281.46,201.77 L282.35,200.55 L283.25,199.33 L284.17,198.12 L285.09,196.90 L286.02,195.69 L286.96,194.47 L287.91,193.25 L288.87,192.02 L289.83,190.78 L290.81,189.53 L291.80,188.27 L292.79,187.00 L293.79,185.71 L294.80,184.40 L295.61,189.63 L296.94,193.55 L298.27,197.48 L299.59,201.40 L300.92,205.33 L302.25,209.26 L303.57,213.18 L304.90,217.11 L306.22,221.03 L307.55,224.96 L308.88,228.88 L310.20,232.81 L311.53,236.74 L312.86,240.66 L314.18,244.59 L315.51,248.51 L316.84,252.44 L318.16,256.37 L319.49,260.29 L320.81,264.22 L322.14,268.14 L323.47,272.07 L324.79,275.99 L326.12,279.92 L327.45,283.85 L328.77,287.77 L330.10,291.70 L331.43,295.62 L332.75,299.55 L334.08,303.47 L335.40,307.40" fill="none" stroke="#34507c" stroke-width="1.00" stroke-linejoin="round" stroke-linecap="round" />
<path d="M353.00,270.50 L353.00,269.11 L353.01,266.47 L353.02,264.07 L353.03,262.24 L353.04,260.58 L353.05,259.09 L353.06,257.67 L353.07,256.11 L353.09,254.30 L353.10,252.39 L353.12,250.43 L353.13,248.42 L353.15,246.42 L353.17,244.45 L353.19,242.56 L353.20,240.79 L353.22,239.13 L353.24,237.47 L353.27,235.83 L353.29,234.21 L353.31,232.61 L353.33,231.03 L353.35,229.48 L353.38,227.96 L353.40,226.47 L353.42,225.01 L353.45,223.57 L353.47,222.17 L353.50,220.80 L353.53,219.46 L353.55,218.14 L353.58,216.85 L353.61,215.60 L353.63,214.39 L353.66,213.21 L353.69,212.06 L353.72,210.94 L353.75,209.84 L353.78,208.75 L353.81,207.68 L353.84,206.61 L353.87,205.55 L353.90,204.47 L353.93,203.38 L353.97,202.26 L354.00,201.11 L354.03,199.94 L354.06,198.77 L354.10,197.60 L354.13,196.43 L354.17,195.26 L354.20,194.09 L354.24,192.91 L354.27,191.73 L354.31,190.54 L354.34,189.34 L354.38,188.13 L354.41,186.90 L354.45,185.66 L354.49,184.40 L354.52,187.47 L354.57,191.47 L354.61,195.47 L354.66,199.47 L354.71,203.46 L354.76,207.46 L354.81,211.46 L354.86,215.46 L354.91,219.45 L354.95,223.45 L355.00,227.45 L355.05,231.45 L355.10,235.44 L355.15,239.44 L355.20,243.44 L355.25,247.44 L355.30,251.43 L355.34,255.43 L355.39,259.43 L355.44,263.43 L355.49,267.42 L355.54,271.42 L355.59,275.42 L355.64,279.42 L355.68,283.41 L355.73,287.41 L355.78,291.41 L355.83,295.41 L355.88,299.40 L355.93,303.40 L355.98,307.40" fill="none" stroke="#a6d4f4" stroke-width="1.00" stroke-linejoin="round" stroke-linecap="round" />
<path d="M353.00,273.57 L353.01,272.14 L353.02,269.40 L353.03,266.91 L353.05,265.02 L353.07,263.30 L353.09,261.75 L353.11,260.28 L353.14,258.67 L353.16,256.80 L353.19,254.82 L353.22,252.78 L353.25,250.71 L353.28,248.63 L353.32,246.59 L353.35,244.63 L353.39,242.80 L353.42,241.08 L353.46,239.37 L353.50,237.67 L353.54,235.99 L353.58,234.33 L353.62,232.70 L353.66,231.09 L353.71,229.52 L353.75,227.97 L353.80,226.46 L353.84,224.97 L353.89,223.52 L353.94,222.10 L353.99,220.71 L354.04,219.35 L354.09,218.01 L354.14,216.72 L354.19,215.46 L354.25,214.24 L354.30,213.05 L354.36,211.89 L354.41,210.75 L354.47,209.62 L354.52,208.51 L354.58,207.41 L354.64,206.30 L354.70,205.19 L354.76,204.05 L354.82,202.90 L354.88,201.71 L354.94,200.49 L355.00,199.28 L355.07,198.07 L355.13,196.86 L355.19,195.65 L355.26,194.43 L355.32,193.22 L355.39,191.99 L355.46,190.76 L355.52,189.52 L355.59,188.26 L355.66,186.99 L355.73,185.71 L355.80,184.40 L355.87,188.09 L355.98,192.07 L356.09,196.04 L356.20,200.02 L356.31,204.00 L356.42,207.97 L356.53,211.95 L356.64,215.93 L356.75,219.91 L356.86,223.88 L356.97,227.86 L357.08,231.84 L357.19,235.81 L357.31,239.79 L357.42,243.77 L357.53,247.74 L357.64,251.72 L357.75,255.70 L357.86,259.68 L357.97,263.65 L358.08,267.63 L358.19,271.61 L358.30,275.58 L358.41,279.56 L358.52,283.54 L358.63,287.51 L358.74,291.49 L358.85,295.47 L358.97,299.45 L359.08,303.42 L359.19,307.40" fill="none" stroke="#6cb4ea" stroke-width="1.00" stroke-linejoin="round" stroke-linecap="round" />
<path d="M353.00,276.65 L353.03,275.93 L353.09,274.56 L353.17,273.14 L353.25,271.82 L353.36,270.52 L353.47,269.25 L353.59,267.99 L353.72,266.70 L353.86,265.31 L354.01,263.89 L354.16,262.44 L354.32,260.97 L354.49,259.48 L354.67,257.97 L354.85,256.46 L355.04,254.95 L355.23,253.43 L355.43,251.91 L355.64,250.38 L355.85,248.85 L356.07,247.31 L356.29,245.77 L356.51,244.23 L356.75,242.68 L356.98,241.14 L357.22,239.60 L357.47,238.06 L357.72,236.52 L357.97,234.98 L358.23,233.44 L358.50,231.90 L358.77,230.36 L359.04,228.82 L359.31,227.27 L359.60,225.71 L359.88,224.15 L360.17,222.57 L360.46,220.98 L360.76,219.39 L361.06,217.83 L361.36,216.27 L361.67,214.73 L361.98,213.19 L362.30,211.65 L362.62,210.10 L362.94,208.54 L363.26,206.97 L363.59,205.37 L363.93,203.73 L364.26,202.06 L364.60,200.37 L364.94,198.66 L365.29,196.93 L365.64,195.19 L365.99,193.43 L366.35,191.66 L366.71,189.87 L367.07,188.06 L367.44,186.24 L367.80,184.40 L368.10,190.55 L368.59,194.44 L369.07,198.34 L369.56,202.23 L370.05,206.13 L370.53,210.02 L371.02,213.92 L371.50,217.81 L371.99,221.71 L372.48,225.60 L372.96,229.50 L373.45,233.39 L373.93,237.29 L374.42,241.18 L374.91,245.08 L375.39,248.97 L375.88,252.87 L376.36,256.76 L376.85,260.66 L377.34,264.55 L377.82,268.45 L378.31,272.34 L378.79,276.24 L379.28,280.13 L379.76,284.03 L380.25,287.92 L380.74,291.82 L381.22,295.71 L381.71,299.61 L382.19,303.50 L382.68,307.40" fill="none" stroke="#4a94dc" stroke-width="1.00" stroke-linejoin="round" stroke-linecap="round" />
<path d="M353.00,282.80 L353.09,281.68 L353.27,279.57 L353.49,277.50 L353.76,275.71 L354.06,273.99 L354.39,272.37 L354.75,270.83 L355.14,269.26 L355.55,267.58 L355.99,265.87 L356.45,264.12 L356.93,262.36 L357.43,260.59 L357.95,258.82 L358.49,257.06 L359.04,255.32 L359.62,253.59 L360.21,251.89 L360.82,250.21 L361.45,248.56 L362.09,246.93 L362.75,245.33 L363.42,243.76 L364.10,242.22 L364.81,240.70 L365.52,239.20 L366.25,237.73 L366.99,236.27 L367.75,234.83 L368.52,233.39 L369.30,231.96 L370.10,230.52 L370.90,229.08 L371.72,227.61 L372.56,226.12 L373.40,224.59 L374.26,223.01 L375.12,221.44 L376.00,219.86 L376.89,218.28 L377.80,216.71 L378.71,215.13 L379.63,213.54 L380.57,211.95 L381.51,210.35 L382.47,208.73 L383.43,207.10 L384.41,205.44 L385.40,203.77 L386.39,202.07 L387.40,200.36 L388.42,198.64 L389.44,196.91 L390.48,195.17 L391.52,193.41 L392.58,191.64 L393.64,189.86 L394.72,188.06 L395.80,186.24 L396.90,184.40 L397.81,190.55 L399.30,194.98 L400.79,199.39 L402.28,203.77 L403.78,208.14 L405.27,212.48 L406.76,216.80 L408.25,221.09 L409.74,225.35 L411.23,229.59 L412.73,233.80 L414.22,237.98 L415.71,242.13 L417.20,246.25 L418.69,250.33 L420.18,254.38 L421.68,258.39 L423.17,262.36 L424.66,266.29 L426.15,270.17 L427.64,274.00 L429.13,277.78 L430.63,281.50 L432.12,285.16 L433.61,288.74 L435.10,292.25 L436.59,295.65 L438.08,298.93 L439.58,302.07 L441.07,304.98 L442.56,307.40" fill="none" stroke="#34507c" stroke-width="1.00" stroke-linejoin="round" stroke-linecap="round" />
<rect x="253.60" y="169.00" width="196.70" height="138.40" fill="none" stroke="#333333" stroke-width="1.00"/>
<line x1="352.00" y1="169.00" x2="352.00" y2="307.40" stroke="#333333" stroke-width="1.00" />
<line x1="254.50" y1="307.40" x2="254.50" y2="310.20" stroke="#333333" stroke-width="1.00" />
<line x1="294.50" y1="307.40" x2="294.50" y2="310.20" stroke="#333333" stroke-width="1.00" />
<line x1="334.50" y1="307.40" x2="334.50" y2="310.20" stroke="#333333" stroke-width="1.00" />
<line x1="353.50" y1="307.40" x2="353.50" y2="310.20" stroke="#333333" stroke-width="1.00" />
<line x1="382.50" y1="307.40" x2="382.50" y2="310.20" stroke="#333333" stroke-width="1.00" />
<line x1="411.50" y1="307.40" x2="411.50" y2="310.20" stroke="#333333" stroke-width="1.00" />
<line x1="441.50" y1="307.40" x2="441.50" y2="310.20" stroke="#333333" stroke-width="1.00" />
<line x1="274.50" y1="307.40" x2="274.50" y2="309.00" stroke="#333333" stroke-width="1.00" />
<line x1="314.50" y1="307.40" x2="314.50" y2="309.00" stroke="#333333" stroke-width="1.00" />
<line x1="354.50" y1="307.40" x2="354.50" y2="309.00" stroke="#333333" stroke-width="1.00" />
<line x1="367.50" y1="307.40" x2="367.50" y2="309.00" stroke="#333333" stroke-width="1.00" />
<line x1="397.50" y1="307.40" x2="397.50" y2="309.00" stroke="#333333" stroke-width="1.00" />
<line x1="426.50" y1="307.40" x2="426.50" y2="309.00" stroke="#333333" stroke-width="1.00" />
<text x="254.20" y="318.00" font-size="8.20" text-anchor="middle" fill="#111111" stroke="#111111" stroke-width="0.10" >0</text>
<text x="294.40" y="318.00" font-size="8.20" text-anchor="middle" fill="#111111" stroke="#111111" stroke-width="0.10" >100</text>
<text x="334.60" y="318.00" font-size="8.20" text-anchor="middle" fill="#111111" stroke="#111111" stroke-width="0.10" >200</text>
<text x="353.00" y="318.00" font-size="8.20" text-anchor="middle" fill="#111111" stroke="#111111" stroke-width="0.10" >0</text>
<text x="382.46" y="318.00" font-size="8.20" text-anchor="middle" fill="#111111" stroke="#111111" stroke-width="0.10" >2000</text>
<text x="411.92" y="318.00" font-size="8.20" text-anchor="middle" fill="#111111" stroke="#111111" stroke-width="0.10" >4000</text>
<text x="441.38" y="318.00" font-size="8.20" text-anchor="middle" fill="#111111" stroke="#111111" stroke-width="0.10" >6000</text>
<line x1="253.60" y1="307.50" x2="250.80" y2="307.50" stroke="#333333" stroke-width="1.00" />
<line x1="253.60" y1="276.50" x2="250.80" y2="276.50" stroke="#333333" stroke-width="1.00" />
<line x1="253.60" y1="245.50" x2="250.80" y2="245.50" stroke="#333333" stroke-width="1.00" />
<line x1="253.60" y1="215.50" x2="250.80" y2="215.50" stroke="#333333" stroke-width="1.00" />
<line x1="253.60" y1="184.50" x2="250.80" y2="184.50" stroke="#333333" stroke-width="1.00" />
<line x1="253.60" y1="292.50" x2="252.00" y2="292.50" stroke="#333333" stroke-width="1.00" />
<line x1="253.60" y1="261.50" x2="252.00" y2="261.50" stroke="#333333" stroke-width="1.00" />
<line x1="253.60" y1="230.50" x2="252.00" y2="230.50" stroke="#333333" stroke-width="1.00" />
<line x1="253.60" y1="199.50" x2="252.00" y2="199.50" stroke="#333333" stroke-width="1.00" />
<text x="249.80" y="309.80" font-size="8.20" text-anchor="end" fill="#111111" stroke="#111111" stroke-width="0.10" >0</text>
<text x="249.80" y="279.05" font-size="8.20" text-anchor="end" fill="#111111" stroke="#111111" stroke-width="0.10" >1</text>
<text x="249.80" y="248.30" font-size="8.20" text-anchor="end" fill="#111111" stroke="#111111" stroke-width="0.10" >2</text>
<text x="249.80" y="217.55" font-size="8.20" text-anchor="end" fill="#111111" stroke="#111111" stroke-width="0.10" >3</text>
<text x="249.80" y="186.80" font-size="8.20" text-anchor="end" fill="#111111" stroke="#111111" stroke-width="0.10" >4</text>
<line x1="258.00" y1="180.90" x2="309.50" y2="180.90" stroke="#1a1a1a" stroke-width="1.40" />
<path d="M255.00,180.9 l4.0,-2.1 l0,4.2 z" fill="#111"/>
<text x="253.80" y="178.00" font-size="8.30" text-anchor="start" fill="#111111" stroke="#111111" stroke-width="0.10" >10.0 A g<tspan dy="-3.0" font-size="5.3">−1</tspan><tspan dy="3.0"></tspan></text>
<text x="299.20" y="178.00" font-size="8.30" text-anchor="start" fill="#111111" stroke="#111111" stroke-width="0.10" >1.0 A g<tspan dy="-3.0" font-size="5.3">−1</tspan><tspan dy="3.0"></tspan></text>
<line x1="356.50" y1="180.90" x2="407.50" y2="180.90" stroke="#1a1a1a" stroke-width="1.40" />
<path d="M353.50,180.9 l4.0,-2.1 l0,4.2 z" fill="#111"/>
<text x="353.80" y="178.00" font-size="8.30" text-anchor="start" fill="#111111" stroke="#111111" stroke-width="0.10" >1.0 A g<tspan dy="-3.0" font-size="5.3">−1</tspan><tspan dy="3.0"></tspan></text>
<text x="401.90" y="178.00" font-size="8.30" text-anchor="start" fill="#111111" stroke="#111111" stroke-width="0.10" >0.1 A g<tspan dy="-3.0" font-size="5.3">−1</tspan><tspan dy="3.0"></tspan></text>
<text x="305.20" y="327.30" font-size="9.20" text-anchor="middle" fill="#111111" stroke="#111111" stroke-width="0.10" >Time (s)</text>
<text x="403.10" y="327.30" font-size="9.20" text-anchor="middle" fill="#111111" stroke="#111111" stroke-width="0.10" >Time (s)</text>
<text x="242.00" y="235.60" font-size="9.25" text-anchor="middle" fill="#111111" stroke="#111111" stroke-width="0.10"  transform="rotate(-90 242.00 235.60)">Potential (V vs. Li/Li<tspan dy="-3.3" font-size="6.3">+</tspan><tspan dy="3.3">)</tspan></text>
<text x="231.20" y="173.10" font-size="15.20" text-anchor="start" fill="#111111" stroke="#111111" stroke-width="0.70" >(e)</text>
<path d="M489.74,177.81 C490.03,182.27 490.32,196.36 491.47,204.53 C492.63,212.69 494.37,220.98 496.69,226.79 C499.00,232.59 501.03,235.32 505.37,239.35 C509.71,243.38 516.95,248.04 522.74,250.95 C528.53,253.87 534.32,255.06 540.11,256.84 C545.90,258.61 551.69,260.34 557.48,261.61 C563.27,262.88 563.27,262.91 574.85,264.47 C586.43,266.03 612.49,269.61 626.96,270.99 C641.44,272.37 655.91,272.45 661.70,272.74" fill="none" stroke="#e05a4e" stroke-width="1.00" stroke-linejoin="round" stroke-linecap="round" />
<path d="M489.74,185.76 C490.03,191.97 490.32,211.76 491.47,222.97 C492.63,234.18 494.37,245.87 496.69,253.02 C499.00,260.18 501.03,261.93 505.37,265.90 C509.71,269.88 516.95,273.93 522.74,276.87 C528.53,279.81 534.32,281.91 540.11,283.55 C545.90,285.19 551.69,285.88 557.48,286.73 C563.27,287.58 563.27,287.68 574.85,288.64 C586.43,289.59 612.49,291.76 626.96,292.45 C641.44,293.14 655.91,292.72 661.70,292.77" fill="none" stroke="#3f8fdc" stroke-width="1.00" stroke-linejoin="round" stroke-linecap="round" />
<circle cx="489.74" cy="177.81" r="2.2" fill="#fff" stroke="#e05a4e" stroke-width="1.1"/>
<circle cx="491.47" cy="204.53" r="2.2" fill="#fff" stroke="#e05a4e" stroke-width="1.1"/>
<circle cx="496.69" cy="226.79" r="2.2" fill="#fff" stroke="#e05a4e" stroke-width="1.1"/>
<circle cx="505.37" cy="239.35" r="2.2" fill="#fff" stroke="#e05a4e" stroke-width="1.1"/>
<circle cx="522.74" cy="250.95" r="2.2" fill="#fff" stroke="#e05a4e" stroke-width="1.1"/>
<circle cx="540.11" cy="256.84" r="2.2" fill="#fff" stroke="#e05a4e" stroke-width="1.1"/>
<circle cx="557.48" cy="261.61" r="2.2" fill="#fff" stroke="#e05a4e" stroke-width="1.1"/>
<circle cx="574.85" cy="264.47" r="2.2" fill="#fff" stroke="#e05a4e" stroke-width="1.1"/>
<circle cx="626.96" cy="270.99" r="2.2" fill="#fff" stroke="#e05a4e" stroke-width="1.1"/>
<circle cx="661.70" cy="272.74" r="2.2" fill="#fff" stroke="#e05a4e" stroke-width="1.1"/>
<rect x="487.64" y="183.66" width="4.2" height="4.2" fill="#fff" stroke="#3f8fdc" stroke-width="1.1"/>
<rect x="489.37" y="220.87" width="4.2" height="4.2" fill="#fff" stroke="#3f8fdc" stroke-width="1.1"/>
<rect x="494.58" y="250.92" width="4.2" height="4.2" fill="#fff" stroke="#3f8fdc" stroke-width="1.1"/>
<rect x="503.27" y="263.80" width="4.2" height="4.2" fill="#fff" stroke="#3f8fdc" stroke-width="1.1"/>
<rect x="520.64" y="274.77" width="4.2" height="4.2" fill="#fff" stroke="#3f8fdc" stroke-width="1.1"/>
<rect x="538.01" y="281.45" width="4.2" height="4.2" fill="#fff" stroke="#3f8fdc" stroke-width="1.1"/>
<rect x="555.38" y="284.63" width="4.2" height="4.2" fill="#fff" stroke="#3f8fdc" stroke-width="1.1"/>
<rect x="572.75" y="286.54" width="4.2" height="4.2" fill="#fff" stroke="#3f8fdc" stroke-width="1.1"/>
<rect x="624.86" y="290.35" width="4.2" height="4.2" fill="#fff" stroke="#3f8fdc" stroke-width="1.1"/>
<rect x="659.60" y="290.67" width="4.2" height="4.2" fill="#fff" stroke="#3f8fdc" stroke-width="1.1"/>
<rect x="484.60" y="169.00" width="186.40" height="138.40" fill="none" stroke="#333333" stroke-width="1.00"/>
<line x1="488.50" y1="307.40" x2="488.50" y2="310.20" stroke="#333333" stroke-width="1.00" />
<line x1="522.50" y1="307.40" x2="522.50" y2="310.20" stroke="#333333" stroke-width="1.00" />
<line x1="557.50" y1="307.40" x2="557.50" y2="310.20" stroke="#333333" stroke-width="1.00" />
<line x1="592.50" y1="307.40" x2="592.50" y2="310.20" stroke="#333333" stroke-width="1.00" />
<line x1="626.50" y1="307.40" x2="626.50" y2="310.20" stroke="#333333" stroke-width="1.00" />
<line x1="661.50" y1="307.40" x2="661.50" y2="310.20" stroke="#333333" stroke-width="1.00" />
<line x1="505.50" y1="307.40" x2="505.50" y2="309.00" stroke="#333333" stroke-width="1.00" />
<line x1="540.50" y1="307.40" x2="540.50" y2="309.00" stroke="#333333" stroke-width="1.00" />
<line x1="574.50" y1="307.40" x2="574.50" y2="309.00" stroke="#333333" stroke-width="1.00" />
<line x1="609.50" y1="307.40" x2="609.50" y2="309.00" stroke="#333333" stroke-width="1.00" />
<line x1="644.50" y1="307.40" x2="644.50" y2="309.00" stroke="#333333" stroke-width="1.00" />
<text x="488.00" y="318.00" font-size="8.20" text-anchor="middle" fill="#111111" stroke="#111111" stroke-width="0.10" >0</text>
<text x="522.74" y="318.00" font-size="8.20" text-anchor="middle" fill="#111111" stroke="#111111" stroke-width="0.10" >2</text>
<text x="557.48" y="318.00" font-size="8.20" text-anchor="middle" fill="#111111" stroke="#111111" stroke-width="0.10" >4</text>
<text x="592.22" y="318.00" font-size="8.20" text-anchor="middle" fill="#111111" stroke="#111111" stroke-width="0.10" >6</text>
<text x="626.96" y="318.00" font-size="8.20" text-anchor="middle" fill="#111111" stroke="#111111" stroke-width="0.10" >8</text>
<text x="661.70" y="318.00" font-size="8.20" text-anchor="middle" fill="#111111" stroke="#111111" stroke-width="0.10" >10</text>
<line x1="484.60" y1="307.50" x2="481.80" y2="307.50" stroke="#333333" stroke-width="1.00" />
<line x1="484.60" y1="275.50" x2="481.80" y2="275.50" stroke="#333333" stroke-width="1.00" />
<line x1="484.60" y1="243.50" x2="481.80" y2="243.50" stroke="#333333" stroke-width="1.00" />
<line x1="484.60" y1="211.50" x2="481.80" y2="211.50" stroke="#333333" stroke-width="1.00" />
<line x1="484.60" y1="180.50" x2="481.80" y2="180.50" stroke="#333333" stroke-width="1.00" />
<line x1="484.60" y1="291.50" x2="483.00" y2="291.50" stroke="#333333" stroke-width="1.00" />
<line x1="484.60" y1="259.50" x2="483.00" y2="259.50" stroke="#333333" stroke-width="1.00" />
<line x1="484.60" y1="227.50" x2="483.00" y2="227.50" stroke="#333333" stroke-width="1.00" />
<line x1="484.60" y1="196.50" x2="483.00" y2="196.50" stroke="#333333" stroke-width="1.00" />
<text x="480.00" y="309.80" font-size="8.20" text-anchor="end" fill="#111111" stroke="#111111" stroke-width="0.10" >0</text>
<text x="480.00" y="278.00" font-size="8.20" text-anchor="end" fill="#111111" stroke="#111111" stroke-width="0.10" >20</text>
<text x="480.00" y="246.20" font-size="8.20" text-anchor="end" fill="#111111" stroke="#111111" stroke-width="0.10" >40</text>
<text x="480.00" y="214.40" font-size="8.20" text-anchor="end" fill="#111111" stroke="#111111" stroke-width="0.10" >60</text>
<text x="480.00" y="182.60" font-size="8.20" text-anchor="end" fill="#111111" stroke="#111111" stroke-width="0.10" >80</text>
<text x="577.80" y="327.30" font-size="9.80" text-anchor="middle" fill="#111111" stroke="#111111" stroke-width="0.10" >Current (A g<tspan dy="-3.3" font-size="6.3">-1</tspan><tspan dy="3.3">)</tspan></text>
<text x="465.20" y="240.50" font-size="9.60" text-anchor="middle" fill="#111111" stroke="#111111" stroke-width="0.10"  transform="rotate(-90 465.20 240.50)">Capacitance (F g<tspan dy="-3.3" font-size="6.3">-1</tspan><tspan dy="3.3">)</tspan></text>
<text x="454.20" y="179.20" font-size="15.20" text-anchor="start" fill="#111111" stroke="#111111" stroke-width="0.70" >(f)</text>
</svg></body></html>
